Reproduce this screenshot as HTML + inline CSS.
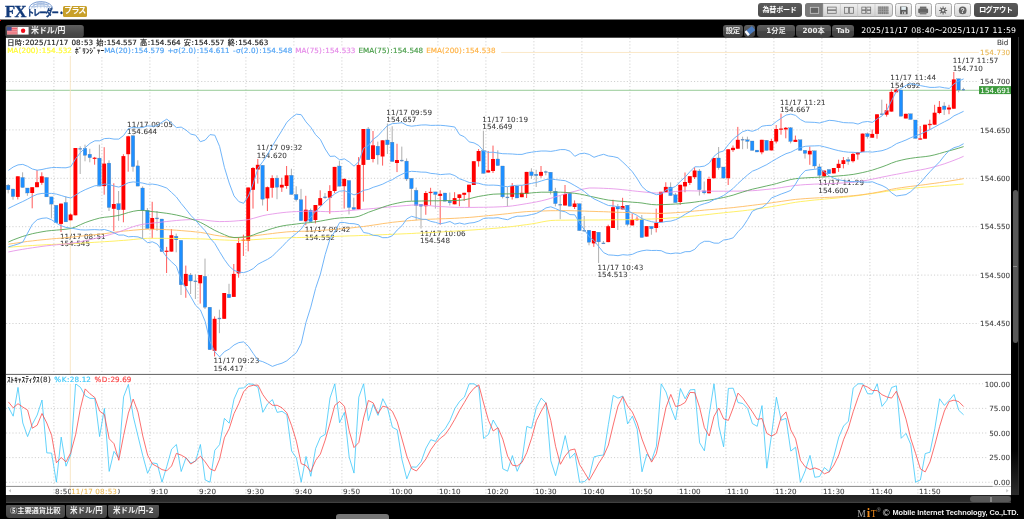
<!DOCTYPE html>
<html lang="ja"><head><meta charset="utf-8"><title>FXトレーダー・プラス</title>
<style>
*{box-sizing:border-box;margin:0;padding:0}
html,body{width:1024px;height:519px;overflow:hidden;background:#000}
body{position:relative;font-family:'Liberation Sans','Noto Sans CJK JP',sans-serif}
.a{position:absolute}
.dk{background:linear-gradient(#5a5a5a,#4a4a4a);border-radius:3px;color:#fff;font-weight:bold;text-align:center;white-space:nowrap;overflow:hidden}
.lt{background:linear-gradient(#f6f6f6,#d6d6d6);border:0.7px solid #a9a9a9;border-radius:2.5px}
.btn2{background:linear-gradient(#5e5e5e 0%,#515151 48%,#464646 54%,#404040 100%);border-radius:3px;color:#ececec;font-family:'DejaVu Sans','Liberation Sans','Noto Sans CJK JP',sans-serif;font-weight:bold;text-align:center;white-space:nowrap;font-size:7.2px;line-height:11.8px;height:11.6px;top:25.1px}
.tab{top:504.8px;height:12.9px;background:linear-gradient(#555,#454545);border-radius:1px 1px 3.5px 3.5px;color:#f0f0f0;font-family:'DejaVu Sans','Liberation Sans','Noto Sans CJK JP',sans-serif;font-weight:bold;font-size:7.5px;line-height:12.6px;text-align:center;white-space:nowrap}
</style></head>
<body>
<svg class="a" style="left:0;top:0" width="1024" height="519" viewBox="0 0 1024 519"><rect x="0" y="0" width="1024" height="19.5" fill="#fff"/><rect x="5.9" y="37.7" width="1005.3" height="457.3" fill="#fff"/></svg>
<!-- logo -->
<div class="a" style="left:4.9px;top:2.5px;font-family:'Liberation Serif',serif;font-weight:bold;font-size:16.6px;line-height:17px;color:#123a7a;letter-spacing:-0.5px;-webkit-text-stroke:0.35px #123a7a">FX</div>
<svg class="a" style="left:27px;top:0" width="30" height="10" viewBox="0 0 30 10" fill="none"><path d="M2 8.6 A11.8 7 0 0 1 25.6 8.6" stroke="#6f93cc" stroke-width="0.9"/><path d="M4.6 8.6 A9.2 5.2 0 0 1 23 8.6" stroke="#8eaad8" stroke-width="0.7"/><path d="M7.4 8.6 A6.4 3.6 0 0 1 20.2 8.6" stroke="#a5bce0" stroke-width="0.6"/><path d="M3 6.6H24.6M5.4 4.6H22.2M9 2.9H18.6" stroke="#8eaad8" stroke-width="0.55"/><path d="M8 3.2L6.4 8.4M11 2.2L10.2 8.4M13.8 1.7V8.4M16.6 2.2L17.4 8.4M19.6 3.2L21.2 8.4" stroke="#9db6de" stroke-width="0.5"/></svg>
<div class="a" style="left:27.2px;top:8.4px;font-size:8.6px;line-height:10px;font-weight:bold;color:#123a7a;white-space:nowrap;letter-spacing:-0.95px;transform:scaleX(0.81);transform-origin:0 0;-webkit-text-stroke:0.45px #123a7a">トレーダー・</div>
<div class="a" style="left:63px;top:6.2px;width:23.8px;height:10.8px;background:#c8a02a;border-radius:1.5px;color:#fff;font-weight:bold;font-size:8px;line-height:10.6px;text-align:center;letter-spacing:-0.9px;white-space:nowrap">プラス</div>
<div class="a" style="left:0;top:19.6px;width:1.2px;height:1.2px;background:#e00"></div>

<!-- header buttons -->
<div class="a dk" style="left:757.6px;top:2.7px;width:44px;height:14.3px;font-size:7.1px;line-height:14.2px;letter-spacing:-0.25px">為替ボード</div>
<div class="a" style="left:805.2px;top:2.7px;width:87.4px;height:14.3px;border-radius:3px;background:linear-gradient(#f0f0f0,#d2d2d2);border:0.7px solid #a8a8a8"></div>
<div class="a" style="left:805.2px;top:2.7px;width:18px;height:14.3px;border-radius:3px 0 0 3px;background:#7a7a7a"></div>
<svg class="a" style="left:805px;top:2.7px" width="88" height="14.3" viewBox="0 0 88 14.3" fill="none" stroke="#6e6e6e" stroke-width="0.75">
<rect x="5.3" y="4.3" width="8.4" height="6" stroke="#cdcdcd" fill="#626262"/>
<path d="M18.2 0.6V13.7M35.4 0.6V13.7M52.6 0.6V13.7M70 0.6V13.7" stroke="#bdbdbd" stroke-width="0.6"/>
<rect x="22.6" y="4.1" width="8.6" height="2.7"/><rect x="22.6" y="7.6" width="8.6" height="2.7"/>
<rect x="39.6" y="4.3" width="3.9" height="6"/><rect x="44.6" y="4.3" width="3.9" height="6"/>
<rect x="56.8" y="4.1" width="3.9" height="2.7"/><rect x="61.8" y="4.1" width="3.9" height="2.7"/><rect x="56.8" y="7.6" width="3.9" height="2.7"/><rect x="61.8" y="7.6" width="3.9" height="2.7"/>
<rect x="72.8" y="3.4" width="10.6" height="7.6" fill="#a2a2a2" stroke="none"/>
<path d="M73.5 4.2H83.4M73.5 5.9H83.4M73.5 7.6H83.4M73.5 9.3H83.4M73.5 10.6H83.4" stroke="#707070" stroke-width="1" stroke-dasharray="1 0.8"/>
</svg>
<div class="a lt" style="left:895px;top:2.5px;width:17px;height:14.6px"></div>
<div class="a lt" style="left:914.8px;top:2.5px;width:17px;height:14.6px"></div>
<div class="a lt" style="left:934.5px;top:2.5px;width:17px;height:14.6px"></div>
<div class="a lt" style="left:954px;top:2.5px;width:17px;height:14.6px"></div>
<svg class="a" style="left:895px;top:2.5px" width="80" height="14.6" viewBox="0 0 80 14.6">
<path d="M5.1 3.5h6.4l1.1 1.1v6.7H5.1z" fill="#5a5a5a"/><rect x="6.3" y="3.7" width="4.6" height="3.2" fill="#e2eef2"/><rect x="7.2" y="8.6" width="3.6" height="2.7" fill="#c9c9c9"/><rect x="8" y="9.1" width="1.1" height="1.8" fill="#5a5a5a"/>
<rect x="23.2" y="5.6" width="9.9" height="4.6" rx="1.2" fill="#646464"/><rect x="24.9" y="3.6" width="6.5" height="2.2" fill="#6c6c6c"/><rect x="24.9" y="8.9" width="6.5" height="2.5" fill="#7a7a7a"/>
<g stroke="#646464" stroke-width="1.05"><path d="M48.1 3.4v8.1M44.05 7.45h8.1M45.25 4.6l5.7 5.7M50.95 4.6l-5.7 5.7"/></g><circle cx="48.1" cy="7.45" r="2.5" fill="#646464"/><circle cx="48.1" cy="7.45" r="1.15" fill="#e4e4e4"/>
<circle cx="67.7" cy="7.45" r="3.85" fill="#646464"/>
<text x="67.7" y="9.9" font-family="'Liberation Sans',sans-serif" font-size="6.8" font-weight="bold" fill="#f2f2f2" text-anchor="middle">?</text>
</svg>
<div class="a dk" style="left:974px;top:2.7px;width:43.5px;height:14.3px;font-size:7.3px;line-height:14.2px;letter-spacing:-0.55px">ログアウト</div>

<!-- pair tab -->
<svg class="a" style="left:0;top:20px" width="90" height="20" viewBox="0 0 90 20"><defs><linearGradient id="tg" x1="0" y1="0" x2="0" y2="1"><stop offset="0" stop-color="#5e5e5e"/><stop offset="0.7" stop-color="#484848"/><stop offset="1" stop-color="#424242"/></linearGradient></defs><rect x="5.4" y="5.1" width="78.4" height="12.1" rx="2.8" fill="url(#tg)"/></svg>
<svg class="a" style="left:7.4px;top:27.2px" width="22" height="8" viewBox="0 0 22 8">
<rect x="0" y="0" width="10.6" height="7.6" fill="#f2a3a8"/><path d="M0 1.6h10.6M0 3.8h10.6M0 6h10.6" stroke="#e8606c" stroke-width="1.1"/><rect x="0" y="0" width="4.6" height="3.6" fill="#3c4f8f"/>
<rect x="10.6" y="0" width="11" height="7.6" fill="#fff"/><circle cx="16.1" cy="3.8" r="2.2" fill="#f20d1a"/></svg>
<div class="a" style="left:31px;top:25.1px;font-family:'DejaVu Sans','Liberation Sans','Noto Sans CJK JP',sans-serif;font-size:7.9px;line-height:12px;font-weight:bold;color:#f2f2f2;white-space:nowrap;letter-spacing:0px">米ドル/円</div>

<!-- row 2 buttons -->
<div class="a btn2" style="left:722.7px;width:20.1px;letter-spacing:-0.3px;font-size:7.3px">設定</div>
<div class="a btn2" style="left:744.3px;width:11px"></div>
<svg class="a" style="left:744px;top:25px" width="12" height="12" viewBox="0 0 12 12"><g transform="rotate(-38 5.8 6)"><rect x="1.2" y="3.4" width="9.4" height="5.4" rx="0.6" fill="#4b7cc0"/><rect x="1.2" y="3.4" width="2.5" height="5.4" rx="0.5" fill="#f6f6f6"/></g></svg>
<div class="a btn2" style="left:757px;width:38px">1分足</div>
<div class="a btn2" style="left:796px;width:35px">200本</div>
<div class="a btn2" style="left:832.2px;width:21.6px;font-size:6.9px;line-height:13.6px;overflow:hidden">Tab</div>


<div class="a" style="left:1011.3px;top:37.4px;width:7.4px;height:458px;background:linear-gradient(#000 0%,#000 90%,#2c2c2c 100%);border-right:0.8px solid #303030"></div>
<div class="a" style="left:1012.6px;top:189.9px;width:5.2px;height:153px;border-radius:2.6px;background:#595959"></div>
<div class="a" style="left:1013.2px;top:265.9px;width:4px;height:1.6px;background:#8c8c8c"></div>
<svg width="1024" height="519" viewBox="0 0 1024 519" style="position:absolute;left:0;top:0">
<line x1="53.90" y1="38.00" x2="53.90" y2="495.00" stroke="#cacaca" stroke-width="0.9" stroke-dasharray="1.1 2.1"/>
<line x1="101.90" y1="38.00" x2="101.90" y2="495.00" stroke="#cacaca" stroke-width="0.9" stroke-dasharray="1.1 2.1"/>
<line x1="149.90" y1="38.00" x2="149.90" y2="495.00" stroke="#cacaca" stroke-width="0.9" stroke-dasharray="1.1 2.1"/>
<line x1="197.90" y1="38.00" x2="197.90" y2="495.00" stroke="#cacaca" stroke-width="0.9" stroke-dasharray="1.1 2.1"/>
<line x1="245.90" y1="38.00" x2="245.90" y2="495.00" stroke="#cacaca" stroke-width="0.9" stroke-dasharray="1.1 2.1"/>
<line x1="293.90" y1="38.00" x2="293.90" y2="495.00" stroke="#cacaca" stroke-width="0.9" stroke-dasharray="1.1 2.1"/>
<line x1="341.90" y1="38.00" x2="341.90" y2="495.00" stroke="#cacaca" stroke-width="0.9" stroke-dasharray="1.1 2.1"/>
<line x1="389.90" y1="38.00" x2="389.90" y2="495.00" stroke="#cacaca" stroke-width="0.9" stroke-dasharray="1.1 2.1"/>
<line x1="437.90" y1="38.00" x2="437.90" y2="495.00" stroke="#cacaca" stroke-width="0.9" stroke-dasharray="1.1 2.1"/>
<line x1="485.90" y1="38.00" x2="485.90" y2="495.00" stroke="#cacaca" stroke-width="0.9" stroke-dasharray="1.1 2.1"/>
<line x1="533.90" y1="38.00" x2="533.90" y2="495.00" stroke="#cacaca" stroke-width="0.9" stroke-dasharray="1.1 2.1"/>
<line x1="581.90" y1="38.00" x2="581.90" y2="495.00" stroke="#cacaca" stroke-width="0.9" stroke-dasharray="1.1 2.1"/>
<line x1="629.90" y1="38.00" x2="629.90" y2="495.00" stroke="#cacaca" stroke-width="0.9" stroke-dasharray="1.1 2.1"/>
<line x1="677.90" y1="38.00" x2="677.90" y2="495.00" stroke="#cacaca" stroke-width="0.9" stroke-dasharray="1.1 2.1"/>
<line x1="725.90" y1="38.00" x2="725.90" y2="495.00" stroke="#cacaca" stroke-width="0.9" stroke-dasharray="1.1 2.1"/>
<line x1="773.90" y1="38.00" x2="773.90" y2="495.00" stroke="#cacaca" stroke-width="0.9" stroke-dasharray="1.1 2.1"/>
<line x1="821.90" y1="38.00" x2="821.90" y2="495.00" stroke="#cacaca" stroke-width="0.9" stroke-dasharray="1.1 2.1"/>
<line x1="869.90" y1="38.00" x2="869.90" y2="495.00" stroke="#cacaca" stroke-width="0.9" stroke-dasharray="1.1 2.1"/>
<line x1="917.90" y1="38.00" x2="917.90" y2="495.00" stroke="#cacaca" stroke-width="0.9" stroke-dasharray="1.1 2.1"/>
<line x1="6.00" y1="81.50" x2="1011.00" y2="81.50" stroke="#cacaca" stroke-width="0.9" stroke-dasharray="1.1 2.1"/>
<line x1="6.00" y1="129.90" x2="1011.00" y2="129.90" stroke="#cacaca" stroke-width="0.9" stroke-dasharray="1.1 2.1"/>
<line x1="6.00" y1="178.30" x2="1011.00" y2="178.30" stroke="#cacaca" stroke-width="0.9" stroke-dasharray="1.1 2.1"/>
<line x1="6.00" y1="226.70" x2="1011.00" y2="226.70" stroke="#cacaca" stroke-width="0.9" stroke-dasharray="1.1 2.1"/>
<line x1="6.00" y1="275.10" x2="1011.00" y2="275.10" stroke="#cacaca" stroke-width="0.9" stroke-dasharray="1.1 2.1"/>
<line x1="6.00" y1="323.50" x2="1011.00" y2="323.50" stroke="#cacaca" stroke-width="0.9" stroke-dasharray="1.1 2.1"/>
<line x1="6.00" y1="383.75" x2="1011.00" y2="383.75" stroke="#cacaca" stroke-width="0.9" stroke-dasharray="1.1 2.1"/>
<line x1="6.00" y1="408.38" x2="1011.00" y2="408.38" stroke="#cacaca" stroke-width="0.9" stroke-dasharray="1.1 2.1"/>
<line x1="6.00" y1="433.00" x2="1011.00" y2="433.00" stroke="#cacaca" stroke-width="0.9" stroke-dasharray="1.1 2.1"/>
<line x1="6.00" y1="457.62" x2="1011.00" y2="457.62" stroke="#cacaca" stroke-width="0.9" stroke-dasharray="1.1 2.1"/>
<line x1="6.00" y1="482.25" x2="1011.00" y2="482.25" stroke="#cacaca" stroke-width="0.9" stroke-dasharray="1.1 2.1"/>
<line x1="6.00" y1="52.46" x2="1011.00" y2="52.46" stroke="#fae5c2" stroke-width="0.9"/>
<line x1="6.00" y1="90.31" x2="1011.00" y2="90.31" stroke="#7fbf7f" stroke-width="0.8"/>
<line x1="70.30" y1="38.00" x2="70.30" y2="495.00" stroke="#f5e2ba" stroke-width="0.85"/>
<line x1="8.20" y1="184.00" x2="8.20" y2="193.40" stroke="#a6a6a6" stroke-width="0.9"/>
<rect x="6.45" y="185.2" width="3.5" height="4.6" fill="#1e8fff" stroke="#5d7c9c" stroke-width="0.3"/>
<line x1="13.00" y1="189.00" x2="13.00" y2="199.70" stroke="#a6a6a6" stroke-width="0.9"/>
<rect x="11.25" y="189.0" width="3.5" height="7.6" fill="#1e8fff" stroke="#5d7c9c" stroke-width="0.3"/>
<line x1="17.80" y1="176.30" x2="17.80" y2="199.40" stroke="#ff4646" stroke-width="0.9"/>
<rect x="15.85" y="176.3" width="3.9" height="20.6" fill="#ff0000"/>
<line x1="22.60" y1="172.30" x2="22.60" y2="187.50" stroke="#a6a6a6" stroke-width="0.9"/>
<rect x="20.85" y="177.5" width="3.5" height="10.0" fill="#1e8fff" stroke="#5d7c9c" stroke-width="0.3"/>
<line x1="27.40" y1="188.00" x2="27.40" y2="195.80" stroke="#a6a6a6" stroke-width="0.9"/>
<rect x="25.65" y="188.0" width="3.5" height="5.0" fill="#1e8fff" stroke="#5d7c9c" stroke-width="0.3"/>
<line x1="32.20" y1="187.20" x2="32.20" y2="208.30" stroke="#ff4646" stroke-width="0.9"/>
<rect x="30.25" y="187.2" width="3.9" height="5.8" fill="#ff0000"/>
<line x1="37.00" y1="170.00" x2="37.00" y2="187.20" stroke="#ff4646" stroke-width="0.9"/>
<rect x="35.05" y="182.2" width="3.9" height="5.0" fill="#ff0000"/>
<line x1="41.80" y1="172.30" x2="41.80" y2="184.80" stroke="#ff4646" stroke-width="0.9"/>
<rect x="39.85" y="176.3" width="3.9" height="6.5" fill="#ff0000"/>
<line x1="46.60" y1="177.50" x2="46.60" y2="196.90" stroke="#a6a6a6" stroke-width="0.9"/>
<rect x="44.85" y="177.5" width="3.5" height="19.4" fill="#1e8fff" stroke="#5d7c9c" stroke-width="0.3"/>
<line x1="51.40" y1="196.90" x2="51.40" y2="218.40" stroke="#a6a6a6" stroke-width="0.9"/>
<rect x="49.65" y="196.9" width="3.5" height="7.2" fill="#1e8fff" stroke="#5d7c9c" stroke-width="0.3"/>
<line x1="56.20" y1="205.30" x2="56.20" y2="222.80" stroke="#a6a6a6" stroke-width="0.9"/>
<rect x="54.45" y="205.3" width="3.5" height="17.5" fill="#1e8fff" stroke="#5d7c9c" stroke-width="0.3"/>
<line x1="61.00" y1="203.60" x2="61.00" y2="232.00" stroke="#ff4646" stroke-width="0.9"/>
<rect x="59.05" y="203.6" width="3.9" height="20.3" fill="#ff0000"/>
<line x1="65.80" y1="196.30" x2="65.80" y2="221.90" stroke="#a6a6a6" stroke-width="0.9"/>
<rect x="64.05" y="202.5" width="3.5" height="19.4" fill="#1e8fff" stroke="#5d7c9c" stroke-width="0.3"/>
<line x1="70.60" y1="213.50" x2="70.60" y2="220.30" stroke="#ff4646" stroke-width="0.9"/>
<rect x="68.65" y="214.5" width="3.9" height="5.8" fill="#ff0000"/>
<line x1="75.40" y1="148.00" x2="75.40" y2="215.30" stroke="#ff4646" stroke-width="0.9"/>
<rect x="73.45" y="148.0" width="3.9" height="67.3" fill="#ff0000"/>
<line x1="80.20" y1="146.30" x2="80.20" y2="174.00" stroke="#a6a6a6" stroke-width="0.9"/>
<rect x="78.45" y="148.20" width="3.5" height="1.3" fill="#6090c8"/>
<line x1="85.00" y1="144.70" x2="85.00" y2="161.30" stroke="#a6a6a6" stroke-width="0.9"/>
<rect x="83.25" y="148.3" width="3.5" height="7.0" fill="#1e8fff" stroke="#5d7c9c" stroke-width="0.3"/>
<line x1="89.80" y1="148.80" x2="89.80" y2="162.30" stroke="#a6a6a6" stroke-width="0.9"/>
<rect x="88.05" y="154.2" width="3.5" height="3.5" fill="#1e8fff" stroke="#5d7c9c" stroke-width="0.3"/>
<line x1="94.60" y1="156.90" x2="94.60" y2="164.70" stroke="#ff4646" stroke-width="0.9"/>
<rect x="92.65" y="157.65" width="3.9" height="1.3" fill="#ff1a1a"/>
<line x1="99.40" y1="144.70" x2="99.40" y2="186.10" stroke="#a6a6a6" stroke-width="0.9"/>
<rect x="97.65" y="158.1" width="3.5" height="28.0" fill="#1e8fff" stroke="#5d7c9c" stroke-width="0.3"/>
<line x1="104.20" y1="147.20" x2="104.20" y2="194.70" stroke="#ff4646" stroke-width="0.9"/>
<rect x="102.25" y="163.6" width="3.9" height="22.5" fill="#ff0000"/>
<line x1="109.00" y1="160.30" x2="109.00" y2="211.00" stroke="#a6a6a6" stroke-width="0.9"/>
<rect x="107.25" y="163.1" width="3.5" height="44.4" fill="#1e8fff" stroke="#5d7c9c" stroke-width="0.3"/>
<line x1="113.80" y1="183.30" x2="113.80" y2="231.00" stroke="#ff4646" stroke-width="0.9"/>
<rect x="111.85" y="204.0" width="3.9" height="4.8" fill="#ff0000"/>
<line x1="118.60" y1="191.00" x2="118.60" y2="220.80" stroke="#a6a6a6" stroke-width="0.9"/>
<rect x="116.85" y="203.6" width="3.5" height="6.2" fill="#1e8fff" stroke="#5d7c9c" stroke-width="0.3"/>
<line x1="123.40" y1="154.20" x2="123.40" y2="222.30" stroke="#ff4646" stroke-width="0.9"/>
<rect x="121.45" y="156.1" width="3.9" height="53.7" fill="#ff0000"/>
<line x1="128.20" y1="135.70" x2="128.20" y2="171.70" stroke="#ff4646" stroke-width="0.9"/>
<rect x="126.25" y="136.3" width="3.9" height="17.9" fill="#ff0000"/>
<line x1="133.00" y1="135.00" x2="133.00" y2="171.70" stroke="#a6a6a6" stroke-width="0.9"/>
<rect x="131.25" y="135.8" width="3.5" height="30.8" fill="#1e8fff" stroke="#5d7c9c" stroke-width="0.3"/>
<line x1="137.80" y1="160.30" x2="137.80" y2="186.10" stroke="#a6a6a6" stroke-width="0.9"/>
<rect x="136.05" y="165.9" width="3.5" height="20.2" fill="#1e8fff" stroke="#5d7c9c" stroke-width="0.3"/>
<line x1="142.60" y1="186.40" x2="142.60" y2="238.00" stroke="#a6a6a6" stroke-width="0.9"/>
<rect x="140.85" y="188.0" width="3.5" height="22.3" fill="#1e8fff" stroke="#5d7c9c" stroke-width="0.3"/>
<line x1="147.40" y1="208.00" x2="147.40" y2="228.60" stroke="#a6a6a6" stroke-width="0.9"/>
<rect x="145.65" y="210.3" width="3.5" height="18.3" fill="#1e8fff" stroke="#5d7c9c" stroke-width="0.3"/>
<line x1="152.20" y1="201.80" x2="152.20" y2="238.30" stroke="#ff4646" stroke-width="0.9"/>
<rect x="150.25" y="218.0" width="3.9" height="11.2" fill="#ff0000"/>
<line x1="157.00" y1="211.00" x2="157.00" y2="231.00" stroke="#a6a6a6" stroke-width="0.9"/>
<rect x="155.25" y="217.75" width="3.5" height="1.3" fill="#6090c8"/>
<line x1="161.80" y1="219.00" x2="161.80" y2="251.60" stroke="#a6a6a6" stroke-width="0.9"/>
<rect x="160.05" y="219.0" width="3.5" height="32.6" fill="#1e8fff" stroke="#5d7c9c" stroke-width="0.3"/>
<line x1="166.60" y1="246.90" x2="166.60" y2="273.00" stroke="#ff4646" stroke-width="0.9"/>
<rect x="164.65" y="250.65" width="3.9" height="1.3" fill="#ff1a1a"/>
<line x1="171.40" y1="229.00" x2="171.40" y2="251.60" stroke="#ff4646" stroke-width="0.9"/>
<rect x="169.45" y="235.2" width="3.9" height="16.4" fill="#ff0000"/>
<line x1="176.20" y1="233.60" x2="176.20" y2="252.30" stroke="#a6a6a6" stroke-width="0.9"/>
<rect x="174.45" y="236.3" width="3.5" height="3.5" fill="#1e8fff" stroke="#5d7c9c" stroke-width="0.3"/>
<line x1="181.00" y1="240.30" x2="181.00" y2="295.00" stroke="#a6a6a6" stroke-width="0.9"/>
<rect x="179.25" y="240.3" width="3.5" height="44.5" fill="#1e8fff" stroke="#5d7c9c" stroke-width="0.3"/>
<line x1="185.80" y1="265.60" x2="185.80" y2="297.80" stroke="#ff4646" stroke-width="0.9"/>
<rect x="183.85" y="273.9" width="3.9" height="12.1" fill="#ff0000"/>
<line x1="190.60" y1="273.00" x2="190.60" y2="294.00" stroke="#a6a6a6" stroke-width="0.9"/>
<rect x="188.85" y="275.0" width="3.5" height="6.0" fill="#1e8fff" stroke="#5d7c9c" stroke-width="0.3"/>
<line x1="195.40" y1="274.40" x2="195.40" y2="299.00" stroke="#a6a6a6" stroke-width="0.9"/>
<rect x="193.65" y="280.65" width="3.5" height="1.3" fill="#6090c8"/>
<line x1="200.20" y1="275.00" x2="200.20" y2="303.60" stroke="#ff4646" stroke-width="0.9"/>
<rect x="198.25" y="275.0" width="3.9" height="8.3" fill="#ff0000"/>
<line x1="205.00" y1="258.60" x2="205.00" y2="309.00" stroke="#a6a6a6" stroke-width="0.9"/>
<rect x="203.25" y="276.3" width="3.5" height="30.9" fill="#1e8fff" stroke="#5d7c9c" stroke-width="0.3"/>
<line x1="209.80" y1="307.20" x2="209.80" y2="349.70" stroke="#a6a6a6" stroke-width="0.9"/>
<rect x="208.05" y="307.2" width="3.5" height="42.5" fill="#1e8fff" stroke="#5d7c9c" stroke-width="0.3"/>
<line x1="214.60" y1="316.40" x2="214.60" y2="356.40" stroke="#ff4646" stroke-width="0.9"/>
<rect x="212.65" y="318.8" width="3.9" height="32.0" fill="#ff0000"/>
<line x1="219.40" y1="309.70" x2="219.40" y2="333.20" stroke="#a6a6a6" stroke-width="0.9"/>
<rect x="217.65" y="317.85" width="3.5" height="1.3" fill="#6090c8"/>
<line x1="224.20" y1="293.00" x2="224.20" y2="318.80" stroke="#ff4646" stroke-width="0.9"/>
<rect x="222.25" y="293.0" width="3.9" height="25.8" fill="#ff0000"/>
<line x1="229.00" y1="283.80" x2="229.00" y2="297.80" stroke="#a6a6a6" stroke-width="0.9"/>
<rect x="227.25" y="294.2" width="3.5" height="3.6" fill="#1e8fff" stroke="#5d7c9c" stroke-width="0.3"/>
<line x1="233.80" y1="264.00" x2="233.80" y2="296.90" stroke="#ff4646" stroke-width="0.9"/>
<rect x="231.85" y="273.9" width="3.9" height="23.0" fill="#ff0000"/>
<line x1="238.60" y1="237.50" x2="238.60" y2="277.70" stroke="#ff4646" stroke-width="0.9"/>
<rect x="236.65" y="243.0" width="3.9" height="30.4" fill="#ff0000"/>
<line x1="243.40" y1="234.70" x2="243.40" y2="256.00" stroke="#ff4646" stroke-width="0.9"/>
<rect x="241.45" y="239.65" width="3.9" height="1.3" fill="#ff1a1a"/>
<line x1="248.20" y1="187.50" x2="248.20" y2="251.30" stroke="#ff4646" stroke-width="0.9"/>
<rect x="246.25" y="187.5" width="3.9" height="53.5" fill="#ff0000"/>
<line x1="253.00" y1="167.00" x2="253.00" y2="208.60" stroke="#ff4646" stroke-width="0.9"/>
<rect x="251.05" y="168.0" width="3.9" height="21.8" fill="#ff0000"/>
<line x1="257.80" y1="159.00" x2="257.80" y2="183.60" stroke="#ff4646" stroke-width="0.9"/>
<rect x="255.85" y="164.8" width="3.9" height="4.7" fill="#ff0000"/>
<line x1="262.60" y1="165.30" x2="262.60" y2="205.50" stroke="#a6a6a6" stroke-width="0.9"/>
<rect x="260.85" y="165.3" width="3.5" height="33.9" fill="#1e8fff" stroke="#5d7c9c" stroke-width="0.3"/>
<line x1="267.40" y1="186.50" x2="267.40" y2="211.00" stroke="#ff4646" stroke-width="0.9"/>
<rect x="265.45" y="187.2" width="3.9" height="11.2" fill="#ff0000"/>
<line x1="272.20" y1="175.30" x2="272.20" y2="197.70" stroke="#ff4646" stroke-width="0.9"/>
<rect x="270.25" y="178.1" width="3.9" height="9.7" fill="#ff0000"/>
<line x1="277.00" y1="175.30" x2="277.00" y2="199.20" stroke="#a6a6a6" stroke-width="0.9"/>
<rect x="275.25" y="178.1" width="3.5" height="9.1" fill="#1e8fff" stroke="#5d7c9c" stroke-width="0.3"/>
<line x1="281.80" y1="177.80" x2="281.80" y2="191.90" stroke="#ff4646" stroke-width="0.9"/>
<rect x="279.85" y="184.8" width="3.9" height="2.7" fill="#ff0000"/>
<line x1="286.60" y1="166.00" x2="286.60" y2="188.75" stroke="#ff4646" stroke-width="0.9"/>
<rect x="284.65" y="175.3" width="3.9" height="10.7" fill="#ff0000"/>
<line x1="291.40" y1="168.75" x2="291.40" y2="194.50" stroke="#a6a6a6" stroke-width="0.9"/>
<rect x="289.65" y="175.3" width="3.5" height="19.2" fill="#1e8fff" stroke="#5d7c9c" stroke-width="0.3"/>
<line x1="296.20" y1="186.25" x2="296.20" y2="201.50" stroke="#a6a6a6" stroke-width="0.9"/>
<rect x="294.45" y="194.5" width="3.5" height="5.2" fill="#1e8fff" stroke="#5d7c9c" stroke-width="0.3"/>
<line x1="301.00" y1="188.90" x2="301.00" y2="220.70" stroke="#a6a6a6" stroke-width="0.9"/>
<rect x="299.25" y="199.7" width="3.5" height="21.0" fill="#1e8fff" stroke="#5d7c9c" stroke-width="0.3"/>
<line x1="305.80" y1="195.80" x2="305.80" y2="225.20" stroke="#ff4646" stroke-width="0.9"/>
<rect x="303.85" y="209.7" width="3.9" height="11.6" fill="#ff0000"/>
<line x1="310.60" y1="208.60" x2="310.60" y2="221.60" stroke="#a6a6a6" stroke-width="0.9"/>
<rect x="308.85" y="210.2" width="3.5" height="11.4" fill="#1e8fff" stroke="#5d7c9c" stroke-width="0.3"/>
<line x1="315.40" y1="205.00" x2="315.40" y2="223.40" stroke="#ff4646" stroke-width="0.9"/>
<rect x="313.45" y="205.0" width="3.9" height="15.0" fill="#ff0000"/>
<line x1="320.20" y1="190.30" x2="320.20" y2="205.50" stroke="#ff4646" stroke-width="0.9"/>
<rect x="318.25" y="198.1" width="3.9" height="7.4" fill="#ff0000"/>
<line x1="325.00" y1="193.00" x2="325.00" y2="198.75" stroke="#a6a6a6" stroke-width="0.9"/>
<rect x="323.25" y="196.65" width="3.5" height="1.3" fill="#6090c8"/>
<line x1="329.80" y1="185.20" x2="329.80" y2="213.75" stroke="#ff4646" stroke-width="0.9"/>
<rect x="327.85" y="191.0" width="3.9" height="6.7" fill="#ff0000"/>
<line x1="334.60" y1="166.90" x2="334.60" y2="193.00" stroke="#ff4646" stroke-width="0.9"/>
<rect x="332.65" y="166.9" width="3.9" height="24.1" fill="#ff0000"/>
<line x1="339.40" y1="160.80" x2="339.40" y2="186.25" stroke="#a6a6a6" stroke-width="0.9"/>
<rect x="337.65" y="166.0" width="3.5" height="20.2" fill="#1e8fff" stroke="#5d7c9c" stroke-width="0.3"/>
<line x1="344.20" y1="178.00" x2="344.20" y2="208.60" stroke="#ff4646" stroke-width="0.9"/>
<rect x="342.25" y="179.0" width="3.9" height="7.2" fill="#ff0000"/>
<line x1="349.00" y1="180.50" x2="349.00" y2="214.40" stroke="#a6a6a6" stroke-width="0.9"/>
<rect x="347.25" y="180.5" width="3.5" height="27.0" fill="#1e8fff" stroke="#5d7c9c" stroke-width="0.3"/>
<line x1="353.80" y1="197.70" x2="353.80" y2="209.40" stroke="#a6a6a6" stroke-width="0.9"/>
<rect x="352.05" y="207.5" width="3.5" height="1.9" fill="#1e8fff" stroke="#5d7c9c" stroke-width="0.3"/>
<line x1="358.60" y1="157.10" x2="358.60" y2="209.40" stroke="#ff4646" stroke-width="0.9"/>
<rect x="356.65" y="164.9" width="3.9" height="44.5" fill="#ff0000"/>
<line x1="363.40" y1="129.00" x2="363.40" y2="201.60" stroke="#ff4646" stroke-width="0.9"/>
<rect x="361.45" y="129.0" width="3.9" height="35.9" fill="#ff0000"/>
<line x1="368.20" y1="127.00" x2="368.20" y2="159.80" stroke="#a6a6a6" stroke-width="0.9"/>
<rect x="366.45" y="129.0" width="3.5" height="30.8" fill="#1e8fff" stroke="#5d7c9c" stroke-width="0.3"/>
<line x1="373.00" y1="131.00" x2="373.00" y2="162.40" stroke="#ff4646" stroke-width="0.9"/>
<rect x="371.05" y="145.3" width="3.9" height="13.7" fill="#ff0000"/>
<line x1="377.80" y1="141.60" x2="377.80" y2="164.50" stroke="#a6a6a6" stroke-width="0.9"/>
<rect x="376.05" y="146.2" width="3.5" height="8.8" fill="#1e8fff" stroke="#5d7c9c" stroke-width="0.3"/>
<line x1="382.60" y1="140.30" x2="382.60" y2="165.60" stroke="#ff4646" stroke-width="0.9"/>
<rect x="380.65" y="140.3" width="3.9" height="16.2" fill="#ff0000"/>
<line x1="387.40" y1="123.50" x2="387.40" y2="154.00" stroke="#a6a6a6" stroke-width="0.9"/>
<rect x="385.65" y="140.0" width="3.5" height="4.7" fill="#1e8fff" stroke="#5d7c9c" stroke-width="0.3"/>
<line x1="392.20" y1="126.25" x2="392.20" y2="161.50" stroke="#a6a6a6" stroke-width="0.9"/>
<rect x="390.45" y="142.2" width="3.5" height="19.3" fill="#1e8fff" stroke="#5d7c9c" stroke-width="0.3"/>
<line x1="397.00" y1="143.75" x2="397.00" y2="172.10" stroke="#ff4646" stroke-width="0.9"/>
<rect x="395.05" y="160.0" width="3.9" height="3.0" fill="#ff0000"/>
<line x1="401.80" y1="146.60" x2="401.80" y2="161.70" stroke="#a6a6a6" stroke-width="0.9"/>
<rect x="400.05" y="159.90" width="3.5" height="1.3" fill="#6090c8"/>
<line x1="406.60" y1="158.40" x2="406.60" y2="181.00" stroke="#a6a6a6" stroke-width="0.9"/>
<rect x="404.85" y="161.1" width="3.5" height="17.9" fill="#1e8fff" stroke="#5d7c9c" stroke-width="0.3"/>
<line x1="411.40" y1="178.40" x2="411.40" y2="200.80" stroke="#a6a6a6" stroke-width="0.9"/>
<rect x="409.65" y="178.4" width="3.5" height="10.3" fill="#1e8fff" stroke="#5d7c9c" stroke-width="0.3"/>
<line x1="416.20" y1="187.50" x2="416.20" y2="220.30" stroke="#a6a6a6" stroke-width="0.9"/>
<rect x="414.45" y="190.3" width="3.5" height="15.2" fill="#1e8fff" stroke="#5d7c9c" stroke-width="0.3"/>
<line x1="421.00" y1="204.40" x2="421.00" y2="228.50" stroke="#a6a6a6" stroke-width="0.9"/>
<rect x="419.25" y="204.4" width="3.5" height="1.8" fill="#1e8fff" stroke="#5d7c9c" stroke-width="0.3"/>
<line x1="425.80" y1="191.00" x2="425.80" y2="214.80" stroke="#ff4646" stroke-width="0.9"/>
<rect x="423.85" y="193.0" width="3.9" height="13.2" fill="#ff0000"/>
<line x1="430.60" y1="187.80" x2="430.60" y2="205.50" stroke="#ff4646" stroke-width="0.9"/>
<rect x="428.65" y="191.80" width="3.9" height="1.3" fill="#ff1a1a"/>
<line x1="435.40" y1="191.90" x2="435.40" y2="208.60" stroke="#a6a6a6" stroke-width="0.9"/>
<rect x="433.65" y="191.9" width="3.5" height="2.6" fill="#1e8fff" stroke="#5d7c9c" stroke-width="0.3"/>
<line x1="440.20" y1="190.30" x2="440.20" y2="224.70" stroke="#ff4646" stroke-width="0.9"/>
<rect x="438.25" y="193.8" width="3.9" height="2.1" fill="#ff0000"/>
<line x1="445.00" y1="193.00" x2="445.00" y2="201.25" stroke="#a6a6a6" stroke-width="0.9"/>
<rect x="443.25" y="193.0" width="3.5" height="8.2" fill="#1e8fff" stroke="#5d7c9c" stroke-width="0.3"/>
<line x1="449.80" y1="192.50" x2="449.80" y2="205.50" stroke="#a6a6a6" stroke-width="0.9"/>
<rect x="448.05" y="201.2" width="3.5" height="1.6" fill="#1e8fff" stroke="#5d7c9c" stroke-width="0.3"/>
<line x1="454.60" y1="192.20" x2="454.60" y2="204.30" stroke="#ff4646" stroke-width="0.9"/>
<rect x="452.65" y="198.1" width="3.9" height="6.2" fill="#ff0000"/>
<line x1="459.40" y1="194.40" x2="459.40" y2="206.25" stroke="#ff4646" stroke-width="0.9"/>
<rect x="457.45" y="194.4" width="3.9" height="3.6" fill="#ff0000"/>
<line x1="464.20" y1="192.80" x2="464.20" y2="201.00" stroke="#ff4646" stroke-width="0.9"/>
<rect x="462.25" y="192.8" width="3.9" height="2.0" fill="#ff0000"/>
<line x1="469.00" y1="184.70" x2="469.00" y2="207.30" stroke="#ff4646" stroke-width="0.9"/>
<rect x="467.05" y="184.7" width="3.9" height="7.5" fill="#ff0000"/>
<line x1="473.80" y1="161.25" x2="473.80" y2="185.00" stroke="#ff4646" stroke-width="0.9"/>
<rect x="471.85" y="161.2" width="3.9" height="23.8" fill="#ff0000"/>
<line x1="478.60" y1="149.00" x2="478.60" y2="166.70" stroke="#ff4646" stroke-width="0.9"/>
<rect x="476.65" y="151.0" width="3.9" height="10.2" fill="#ff0000"/>
<line x1="483.40" y1="130.90" x2="483.40" y2="173.40" stroke="#a6a6a6" stroke-width="0.9"/>
<rect x="481.65" y="150.6" width="3.5" height="22.8" fill="#1e8fff" stroke="#5d7c9c" stroke-width="0.3"/>
<line x1="488.20" y1="151.00" x2="488.20" y2="172.50" stroke="#ff4646" stroke-width="0.9"/>
<rect x="486.25" y="170.3" width="3.9" height="2.2" fill="#ff0000"/>
<line x1="493.00" y1="145.60" x2="493.00" y2="173.00" stroke="#ff4646" stroke-width="0.9"/>
<rect x="491.05" y="159.0" width="3.9" height="12.0" fill="#ff0000"/>
<line x1="497.80" y1="150.30" x2="497.80" y2="165.60" stroke="#a6a6a6" stroke-width="0.9"/>
<rect x="496.05" y="159.0" width="3.5" height="6.6" fill="#1e8fff" stroke="#5d7c9c" stroke-width="0.3"/>
<line x1="502.60" y1="166.00" x2="502.60" y2="198.40" stroke="#a6a6a6" stroke-width="0.9"/>
<rect x="500.85" y="166.0" width="3.5" height="30.9" fill="#1e8fff" stroke="#5d7c9c" stroke-width="0.3"/>
<line x1="507.40" y1="187.00" x2="507.40" y2="206.40" stroke="#a6a6a6" stroke-width="0.9"/>
<rect x="505.65" y="196.75" width="3.5" height="1.3" fill="#6090c8"/>
<line x1="512.20" y1="183.00" x2="512.20" y2="199.50" stroke="#ff4646" stroke-width="0.9"/>
<rect x="510.25" y="186.0" width="3.9" height="10.9" fill="#ff0000"/>
<line x1="517.00" y1="186.00" x2="517.00" y2="198.00" stroke="#a6a6a6" stroke-width="0.9"/>
<rect x="515.25" y="186.0" width="3.5" height="12.0" fill="#1e8fff" stroke="#5d7c9c" stroke-width="0.3"/>
<line x1="521.80" y1="185.50" x2="521.80" y2="197.20" stroke="#ff4646" stroke-width="0.9"/>
<rect x="519.85" y="192.8" width="3.9" height="4.4" fill="#ff0000"/>
<line x1="526.60" y1="171.90" x2="526.60" y2="198.00" stroke="#ff4646" stroke-width="0.9"/>
<rect x="524.65" y="171.9" width="3.9" height="21.8" fill="#ff0000"/>
<line x1="531.40" y1="168.30" x2="531.40" y2="178.75" stroke="#a6a6a6" stroke-width="0.9"/>
<rect x="529.65" y="171.9" width="3.5" height="3.7" fill="#1e8fff" stroke="#5d7c9c" stroke-width="0.3"/>
<line x1="536.20" y1="169.80" x2="536.20" y2="187.00" stroke="#a6a6a6" stroke-width="0.9"/>
<rect x="534.45" y="174.3" width="3.5" height="1.3" fill="#1e8fff" stroke="#5d7c9c" stroke-width="0.3"/>
<line x1="541.00" y1="166.00" x2="541.00" y2="177.70" stroke="#ff4646" stroke-width="0.9"/>
<rect x="539.05" y="171.9" width="3.9" height="3.9" fill="#ff0000"/>
<line x1="545.80" y1="170.60" x2="545.80" y2="175.30" stroke="#a6a6a6" stroke-width="0.9"/>
<rect x="544.05" y="171.35" width="3.5" height="1.3" fill="#6090c8"/>
<line x1="550.60" y1="172.20" x2="550.60" y2="194.40" stroke="#a6a6a6" stroke-width="0.9"/>
<rect x="548.85" y="172.2" width="3.5" height="18.8" fill="#1e8fff" stroke="#5d7c9c" stroke-width="0.3"/>
<line x1="555.40" y1="187.80" x2="555.40" y2="206.40" stroke="#a6a6a6" stroke-width="0.9"/>
<rect x="553.65" y="191.2" width="3.5" height="12.4" fill="#1e8fff" stroke="#5d7c9c" stroke-width="0.3"/>
<line x1="560.20" y1="195.30" x2="560.20" y2="219.20" stroke="#a6a6a6" stroke-width="0.9"/>
<rect x="558.45" y="204.10" width="3.5" height="1.3" fill="#6090c8"/>
<line x1="565.00" y1="185.00" x2="565.00" y2="205.50" stroke="#ff4646" stroke-width="0.9"/>
<rect x="563.05" y="194.0" width="3.9" height="11.5" fill="#ff0000"/>
<line x1="569.80" y1="193.30" x2="569.80" y2="206.25" stroke="#a6a6a6" stroke-width="0.9"/>
<rect x="568.05" y="193.3" width="3.5" height="12.9" fill="#1e8fff" stroke="#5d7c9c" stroke-width="0.3"/>
<line x1="574.60" y1="200.40" x2="574.60" y2="209.00" stroke="#ff4646" stroke-width="0.9"/>
<rect x="572.65" y="203.5" width="3.9" height="3.5" fill="#ff0000"/>
<line x1="579.40" y1="203.70" x2="579.40" y2="230.60" stroke="#a6a6a6" stroke-width="0.9"/>
<rect x="577.65" y="203.7" width="3.5" height="26.9" fill="#1e8fff" stroke="#5d7c9c" stroke-width="0.3"/>
<line x1="584.20" y1="216.00" x2="584.20" y2="231.70" stroke="#a6a6a6" stroke-width="0.9"/>
<rect x="582.45" y="230.10" width="3.5" height="1.3" fill="#6090c8"/>
<line x1="589.00" y1="230.20" x2="589.00" y2="245.30" stroke="#a6a6a6" stroke-width="0.9"/>
<rect x="587.25" y="230.2" width="3.5" height="12.0" fill="#1e8fff" stroke="#5d7c9c" stroke-width="0.3"/>
<line x1="593.80" y1="231.00" x2="593.80" y2="246.90" stroke="#ff4646" stroke-width="0.9"/>
<rect x="591.85" y="231.0" width="3.9" height="12.4" fill="#ff0000"/>
<line x1="598.60" y1="232.20" x2="598.60" y2="263.00" stroke="#a6a6a6" stroke-width="0.9"/>
<rect x="596.85" y="232.2" width="3.5" height="9.7" fill="#1e8fff" stroke="#5d7c9c" stroke-width="0.3"/>
<line x1="603.40" y1="241.00" x2="603.40" y2="243.75" stroke="#a6a6a6" stroke-width="0.9"/>
<rect x="601.65" y="242.72" width="3.5" height="1.3" fill="#6090c8"/>
<line x1="608.20" y1="224.70" x2="608.20" y2="242.20" stroke="#ff4646" stroke-width="0.9"/>
<rect x="606.25" y="226.2" width="3.9" height="15.9" fill="#ff0000"/>
<line x1="613.00" y1="199.70" x2="613.00" y2="228.00" stroke="#ff4646" stroke-width="0.9"/>
<rect x="611.05" y="207.2" width="3.9" height="20.8" fill="#ff0000"/>
<line x1="617.80" y1="204.00" x2="617.80" y2="230.00" stroke="#a6a6a6" stroke-width="0.9"/>
<rect x="616.05" y="206.2" width="3.5" height="2.8" fill="#1e8fff" stroke="#5d7c9c" stroke-width="0.3"/>
<line x1="622.60" y1="197.80" x2="622.60" y2="209.40" stroke="#ff4646" stroke-width="0.9"/>
<rect x="620.65" y="206.0" width="3.9" height="3.4" fill="#ff0000"/>
<line x1="627.40" y1="205.20" x2="627.40" y2="226.00" stroke="#a6a6a6" stroke-width="0.9"/>
<rect x="625.65" y="205.2" width="3.5" height="19.2" fill="#1e8fff" stroke="#5d7c9c" stroke-width="0.3"/>
<line x1="632.20" y1="213.50" x2="632.20" y2="225.40" stroke="#ff4646" stroke-width="0.9"/>
<rect x="630.25" y="219.3" width="3.9" height="6.1" fill="#ff0000"/>
<line x1="637.00" y1="216.40" x2="637.00" y2="220.80" stroke="#ff4646" stroke-width="0.9"/>
<rect x="635.05" y="218.85" width="3.9" height="1.3" fill="#ff1a1a"/>
<line x1="641.80" y1="215.00" x2="641.80" y2="237.50" stroke="#a6a6a6" stroke-width="0.9"/>
<rect x="640.05" y="219.1" width="3.5" height="18.4" fill="#1e8fff" stroke="#5d7c9c" stroke-width="0.3"/>
<line x1="646.60" y1="226.10" x2="646.60" y2="236.60" stroke="#ff4646" stroke-width="0.9"/>
<rect x="644.65" y="226.1" width="3.9" height="10.5" fill="#ff0000"/>
<line x1="651.40" y1="226.40" x2="651.40" y2="234.75" stroke="#a6a6a6" stroke-width="0.9"/>
<rect x="649.65" y="226.4" width="3.5" height="2.3" fill="#1e8fff" stroke="#5d7c9c" stroke-width="0.3"/>
<line x1="656.20" y1="208.60" x2="656.20" y2="232.40" stroke="#ff4646" stroke-width="0.9"/>
<rect x="654.25" y="223.0" width="3.9" height="5.0" fill="#ff0000"/>
<line x1="661.00" y1="191.80" x2="661.00" y2="222.20" stroke="#ff4646" stroke-width="0.9"/>
<rect x="659.05" y="191.8" width="3.9" height="30.4" fill="#ff0000"/>
<line x1="665.80" y1="182.25" x2="665.80" y2="192.25" stroke="#ff4646" stroke-width="0.9"/>
<rect x="663.85" y="186.9" width="3.9" height="5.3" fill="#ff0000"/>
<line x1="670.60" y1="182.40" x2="670.60" y2="195.55" stroke="#a6a6a6" stroke-width="0.9"/>
<rect x="668.85" y="187.1" width="3.5" height="8.5" fill="#1e8fff" stroke="#5d7c9c" stroke-width="0.3"/>
<line x1="675.40" y1="192.80" x2="675.40" y2="202.60" stroke="#a6a6a6" stroke-width="0.9"/>
<rect x="673.65" y="194.8" width="3.5" height="7.8" fill="#1e8fff" stroke="#5d7c9c" stroke-width="0.3"/>
<line x1="680.20" y1="184.85" x2="680.20" y2="204.90" stroke="#ff4646" stroke-width="0.9"/>
<rect x="678.25" y="184.8" width="3.9" height="17.2" fill="#ff0000"/>
<line x1="685.00" y1="172.50" x2="685.00" y2="192.25" stroke="#ff4646" stroke-width="0.9"/>
<rect x="683.05" y="182.0" width="3.9" height="4.4" fill="#ff0000"/>
<line x1="689.80" y1="176.25" x2="689.80" y2="185.00" stroke="#ff4646" stroke-width="0.9"/>
<rect x="687.85" y="176.2" width="3.9" height="6.7" fill="#ff0000"/>
<line x1="694.60" y1="167.30" x2="694.60" y2="179.00" stroke="#ff4646" stroke-width="0.9"/>
<rect x="692.65" y="170.5" width="3.9" height="6.7" fill="#ff0000"/>
<line x1="699.40" y1="169.00" x2="699.40" y2="195.55" stroke="#a6a6a6" stroke-width="0.9"/>
<rect x="697.65" y="171.0" width="3.5" height="18.8" fill="#1e8fff" stroke="#5d7c9c" stroke-width="0.3"/>
<line x1="704.20" y1="181.50" x2="704.20" y2="194.40" stroke="#a6a6a6" stroke-width="0.9"/>
<rect x="702.45" y="190.9" width="3.5" height="2.0" fill="#1e8fff" stroke="#5d7c9c" stroke-width="0.3"/>
<line x1="709.00" y1="176.70" x2="709.00" y2="193.35" stroke="#ff4646" stroke-width="0.9"/>
<rect x="707.05" y="179.0" width="3.9" height="14.3" fill="#ff0000"/>
<line x1="713.80" y1="158.00" x2="713.80" y2="178.30" stroke="#ff4646" stroke-width="0.9"/>
<rect x="711.85" y="158.0" width="3.9" height="20.3" fill="#ff0000"/>
<line x1="718.60" y1="147.00" x2="718.60" y2="169.70" stroke="#a6a6a6" stroke-width="0.9"/>
<rect x="716.85" y="158.0" width="3.5" height="9.8" fill="#1e8fff" stroke="#5d7c9c" stroke-width="0.3"/>
<line x1="723.40" y1="167.00" x2="723.40" y2="178.10" stroke="#a6a6a6" stroke-width="0.9"/>
<rect x="721.65" y="167.0" width="3.5" height="11.1" fill="#1e8fff" stroke="#5d7c9c" stroke-width="0.3"/>
<line x1="728.20" y1="149.30" x2="728.20" y2="185.00" stroke="#ff4646" stroke-width="0.9"/>
<rect x="726.25" y="149.3" width="3.9" height="28.9" fill="#ff0000"/>
<line x1="733.00" y1="145.50" x2="733.00" y2="151.90" stroke="#ff4646" stroke-width="0.9"/>
<rect x="731.05" y="147.8" width="3.9" height="2.3" fill="#ff0000"/>
<line x1="737.80" y1="126.90" x2="737.80" y2="148.70" stroke="#ff4646" stroke-width="0.9"/>
<rect x="735.85" y="139.8" width="3.9" height="8.9" fill="#ff0000"/>
<line x1="742.60" y1="136.70" x2="742.60" y2="149.20" stroke="#a6a6a6" stroke-width="0.9"/>
<rect x="740.85" y="139.10" width="3.5" height="1.3" fill="#6090c8"/>
<line x1="747.40" y1="136.70" x2="747.40" y2="148.75" stroke="#a6a6a6" stroke-width="0.9"/>
<rect x="745.65" y="139.8" width="3.5" height="1.6" fill="#1e8fff" stroke="#5d7c9c" stroke-width="0.3"/>
<line x1="752.20" y1="141.00" x2="752.20" y2="150.40" stroke="#a6a6a6" stroke-width="0.9"/>
<rect x="750.45" y="141.0" width="3.5" height="9.4" fill="#1e8fff" stroke="#5d7c9c" stroke-width="0.3"/>
<line x1="757.00" y1="150.10" x2="757.00" y2="152.00" stroke="#a6a6a6" stroke-width="0.9"/>
<rect x="755.25" y="150.1" width="3.5" height="1.9" fill="#1e8fff" stroke="#5d7c9c" stroke-width="0.3"/>
<line x1="761.80" y1="139.80" x2="761.80" y2="154.30" stroke="#ff4646" stroke-width="0.9"/>
<rect x="759.85" y="139.8" width="3.9" height="12.5" fill="#ff0000"/>
<line x1="766.60" y1="140.30" x2="766.60" y2="150.40" stroke="#a6a6a6" stroke-width="0.9"/>
<rect x="764.85" y="140.3" width="3.5" height="10.1" fill="#1e8fff" stroke="#5d7c9c" stroke-width="0.3"/>
<line x1="771.40" y1="138.75" x2="771.40" y2="150.40" stroke="#ff4646" stroke-width="0.9"/>
<rect x="769.45" y="141.0" width="3.9" height="9.4" fill="#ff0000"/>
<line x1="776.20" y1="125.00" x2="776.20" y2="143.40" stroke="#ff4646" stroke-width="0.9"/>
<rect x="774.25" y="129.0" width="3.9" height="12.5" fill="#ff0000"/>
<line x1="781.00" y1="113.50" x2="781.00" y2="134.70" stroke="#ff4646" stroke-width="0.9"/>
<rect x="779.05" y="128.50" width="3.9" height="1.3" fill="#ff1a1a"/>
<line x1="785.80" y1="127.00" x2="785.80" y2="138.30" stroke="#ff4646" stroke-width="0.9"/>
<rect x="783.85" y="127.8" width="3.9" height="1.6" fill="#ff0000"/>
<line x1="790.60" y1="127.00" x2="790.60" y2="143.40" stroke="#a6a6a6" stroke-width="0.9"/>
<rect x="788.85" y="127.8" width="3.5" height="13.6" fill="#1e8fff" stroke="#5d7c9c" stroke-width="0.3"/>
<line x1="795.40" y1="135.60" x2="795.40" y2="141.90" stroke="#ff4646" stroke-width="0.9"/>
<rect x="793.45" y="139.8" width="3.9" height="2.1" fill="#ff0000"/>
<line x1="800.20" y1="139.80" x2="800.20" y2="150.40" stroke="#a6a6a6" stroke-width="0.9"/>
<rect x="798.45" y="139.8" width="3.5" height="10.6" fill="#1e8fff" stroke="#5d7c9c" stroke-width="0.3"/>
<line x1="805.00" y1="150.30" x2="805.00" y2="158.60" stroke="#a6a6a6" stroke-width="0.9"/>
<rect x="803.25" y="150.3" width="3.5" height="3.1" fill="#1e8fff" stroke="#5d7c9c" stroke-width="0.3"/>
<line x1="809.80" y1="146.60" x2="809.80" y2="164.80" stroke="#ff4646" stroke-width="0.9"/>
<rect x="807.85" y="150.8" width="3.9" height="3.6" fill="#ff0000"/>
<line x1="814.60" y1="150.80" x2="814.60" y2="168.75" stroke="#a6a6a6" stroke-width="0.9"/>
<rect x="812.85" y="150.8" width="3.5" height="15.2" fill="#1e8fff" stroke="#5d7c9c" stroke-width="0.3"/>
<line x1="819.40" y1="163.75" x2="819.40" y2="178.30" stroke="#a6a6a6" stroke-width="0.9"/>
<rect x="817.65" y="166.9" width="3.5" height="8.4" fill="#1e8fff" stroke="#5d7c9c" stroke-width="0.3"/>
<line x1="824.20" y1="170.60" x2="824.20" y2="177.30" stroke="#ff4646" stroke-width="0.9"/>
<rect x="822.25" y="170.6" width="3.9" height="5.7" fill="#ff0000"/>
<line x1="829.00" y1="169.50" x2="829.00" y2="173.75" stroke="#a6a6a6" stroke-width="0.9"/>
<rect x="827.25" y="169.5" width="3.5" height="4.2" fill="#1e8fff" stroke="#5d7c9c" stroke-width="0.3"/>
<line x1="833.80" y1="168.00" x2="833.80" y2="173.40" stroke="#ff4646" stroke-width="0.9"/>
<rect x="831.85" y="168.0" width="3.9" height="5.4" fill="#ff0000"/>
<line x1="838.60" y1="159.70" x2="838.60" y2="171.90" stroke="#ff4646" stroke-width="0.9"/>
<rect x="836.65" y="163.8" width="3.9" height="4.2" fill="#ff0000"/>
<line x1="843.40" y1="157.00" x2="843.40" y2="168.40" stroke="#ff4646" stroke-width="0.9"/>
<rect x="841.45" y="160.2" width="3.9" height="3.8" fill="#ff0000"/>
<line x1="848.20" y1="157.00" x2="848.20" y2="164.80" stroke="#a6a6a6" stroke-width="0.9"/>
<rect x="846.45" y="159.7" width="3.5" height="1.6" fill="#1e8fff" stroke="#5d7c9c" stroke-width="0.3"/>
<line x1="853.00" y1="152.80" x2="853.00" y2="162.50" stroke="#ff4646" stroke-width="0.9"/>
<rect x="851.05" y="153.9" width="3.9" height="7.3" fill="#ff0000"/>
<line x1="857.80" y1="152.30" x2="857.80" y2="159.70" stroke="#ff4646" stroke-width="0.9"/>
<rect x="855.85" y="152.3" width="3.9" height="2.1" fill="#ff0000"/>
<line x1="862.60" y1="133.60" x2="862.60" y2="151.90" stroke="#ff4646" stroke-width="0.9"/>
<rect x="860.65" y="133.6" width="3.9" height="18.3" fill="#ff0000"/>
<line x1="867.40" y1="132.50" x2="867.40" y2="138.60" stroke="#a6a6a6" stroke-width="0.9"/>
<rect x="865.65" y="133.7" width="3.5" height="3.0" fill="#1e8fff" stroke="#5d7c9c" stroke-width="0.3"/>
<line x1="872.20" y1="129.50" x2="872.20" y2="137.75" stroke="#ff4646" stroke-width="0.9"/>
<rect x="870.25" y="133.9" width="3.9" height="3.8" fill="#ff0000"/>
<line x1="877.00" y1="114.30" x2="877.00" y2="138.70" stroke="#ff4646" stroke-width="0.9"/>
<rect x="875.05" y="114.3" width="3.9" height="19.6" fill="#ff0000"/>
<line x1="881.80" y1="99.70" x2="881.80" y2="115.00" stroke="#a6a6a6" stroke-width="0.9"/>
<rect x="880.05" y="113.55" width="3.5" height="1.3" fill="#6090c8"/>
<line x1="886.60" y1="103.75" x2="886.60" y2="116.60" stroke="#ff4646" stroke-width="0.9"/>
<rect x="884.65" y="110.3" width="3.9" height="4.4" fill="#ff0000"/>
<line x1="891.40" y1="89.20" x2="891.40" y2="111.60" stroke="#ff4646" stroke-width="0.9"/>
<rect x="889.45" y="91.9" width="3.9" height="19.7" fill="#ff0000"/>
<line x1="896.20" y1="88.40" x2="896.20" y2="92.30" stroke="#ff4646" stroke-width="0.9"/>
<rect x="894.25" y="89.7" width="3.9" height="2.6" fill="#ff0000"/>
<line x1="901.00" y1="90.00" x2="901.00" y2="116.25" stroke="#a6a6a6" stroke-width="0.9"/>
<rect x="899.25" y="90.0" width="3.5" height="26.2" fill="#1e8fff" stroke="#5d7c9c" stroke-width="0.3"/>
<line x1="905.80" y1="113.75" x2="905.80" y2="118.40" stroke="#ff4646" stroke-width="0.9"/>
<rect x="903.85" y="113.8" width="3.9" height="4.7" fill="#ff0000"/>
<line x1="910.60" y1="113.75" x2="910.60" y2="119.40" stroke="#a6a6a6" stroke-width="0.9"/>
<rect x="908.85" y="113.8" width="3.5" height="5.7" fill="#1e8fff" stroke="#5d7c9c" stroke-width="0.3"/>
<line x1="915.40" y1="120.00" x2="915.40" y2="138.40" stroke="#a6a6a6" stroke-width="0.9"/>
<rect x="913.65" y="120.0" width="3.5" height="18.4" fill="#1e8fff" stroke="#5d7c9c" stroke-width="0.3"/>
<line x1="920.20" y1="126.00" x2="920.20" y2="139.60" stroke="#ff4646" stroke-width="0.9"/>
<rect x="918.25" y="138.35" width="3.9" height="1.3" fill="#ff1a1a"/>
<line x1="925.00" y1="124.70" x2="925.00" y2="138.75" stroke="#ff4646" stroke-width="0.9"/>
<rect x="923.05" y="124.7" width="3.9" height="14.0" fill="#ff0000"/>
<line x1="929.80" y1="119.70" x2="929.80" y2="129.80" stroke="#ff4646" stroke-width="0.9"/>
<rect x="927.85" y="123.85" width="3.9" height="1.3" fill="#ff1a1a"/>
<line x1="934.60" y1="104.80" x2="934.60" y2="124.70" stroke="#ff4646" stroke-width="0.9"/>
<rect x="932.65" y="112.7" width="3.9" height="12.0" fill="#ff0000"/>
<line x1="939.40" y1="101.00" x2="939.40" y2="114.20" stroke="#ff4646" stroke-width="0.9"/>
<rect x="937.45" y="106.9" width="3.9" height="6.1" fill="#ff0000"/>
<line x1="944.20" y1="102.20" x2="944.20" y2="115.00" stroke="#a6a6a6" stroke-width="0.9"/>
<rect x="942.45" y="106.0" width="3.5" height="3.5" fill="#1e8fff" stroke="#5d7c9c" stroke-width="0.3"/>
<line x1="949.00" y1="104.80" x2="949.00" y2="114.20" stroke="#ff4646" stroke-width="0.9"/>
<rect x="947.05" y="107.5" width="3.9" height="2.0" fill="#ff0000"/>
<line x1="953.80" y1="72.00" x2="953.80" y2="108.75" stroke="#ff4646" stroke-width="0.9"/>
<rect x="951.85" y="79.4" width="3.9" height="29.3" fill="#ff0000"/>
<line x1="958.60" y1="78.75" x2="958.60" y2="92.30" stroke="#a6a6a6" stroke-width="0.9"/>
<rect x="956.85" y="78.8" width="3.5" height="11.2" fill="#1e8fff" stroke="#5d7c9c" stroke-width="0.3"/>
<line x1="963.40" y1="87.70" x2="963.40" y2="90.80" stroke="#a6a6a6" stroke-width="0.9"/>
<rect x="961.90" y="89.05" width="3.0" height="1.3" fill="#6090c8"/>
<text x="127.10 131.68 136.68 139.53 144.11 148.81 151.22 155.80 160.80 163.65 168.23" y="126.80" font-family="'DejaVu Sans','Liberation Sans',sans-serif" font-size="7.2" fill="#383838" stroke="#383838" stroke-width="0.06">11/17 09:05</text>
<text x="127.10 131.68 136.26 141.00 143.46 148.04 152.62" y="134.20" font-family="'DejaVu Sans','Liberation Sans',sans-serif" font-size="7.2" fill="#383838" stroke="#383838" stroke-width="0.06">154.644</text>
<text x="256.70 261.28 266.28 269.13 273.71 278.41 280.82 285.40 290.40 293.25 297.83" y="150.10" font-family="'DejaVu Sans','Liberation Sans',sans-serif" font-size="7.2" fill="#383838" stroke="#383838" stroke-width="0.06">11/17 09:32</text>
<text x="256.70 261.28 265.86 270.60 273.06 277.64 282.22" y="157.50" font-family="'DejaVu Sans','Liberation Sans',sans-serif" font-size="7.2" fill="#383838" stroke="#383838" stroke-width="0.06">154.620</text>
<text x="386.30 390.88 395.88 398.73 403.31 408.01 410.42 415.00 420.00 422.85 427.43" y="114.60" font-family="'DejaVu Sans','Liberation Sans',sans-serif" font-size="7.2" fill="#383838" stroke="#383838" stroke-width="0.06">11/17 09:59</text>
<text x="386.30 390.88 395.46 400.20 402.66 407.24 411.82" y="122.00" font-family="'DejaVu Sans','Liberation Sans',sans-serif" font-size="7.2" fill="#383838" stroke="#383838" stroke-width="0.06">154.657</text>
<text x="482.30 486.88 491.88 494.73 499.31 504.01 506.42 511.00 516.00 518.85 523.43" y="122.00" font-family="'DejaVu Sans','Liberation Sans',sans-serif" font-size="7.2" fill="#383838" stroke="#383838" stroke-width="0.06">11/17 10:19</text>
<text x="482.30 486.88 491.46 496.20 498.66 503.24 507.82" y="129.40" font-family="'DejaVu Sans','Liberation Sans',sans-serif" font-size="7.2" fill="#383838" stroke="#383838" stroke-width="0.06">154.649</text>
<text x="779.90 784.48 789.48 792.33 796.91 801.61 804.02 808.60 813.60 816.45 821.03" y="104.60" font-family="'DejaVu Sans','Liberation Sans',sans-serif" font-size="7.2" fill="#383838" stroke="#383838" stroke-width="0.06">11/17 11:21</text>
<text x="779.90 784.48 789.06 793.80 796.26 800.84 805.42" y="112.00" font-family="'DejaVu Sans','Liberation Sans',sans-serif" font-size="7.2" fill="#383838" stroke="#383838" stroke-width="0.06">154.667</text>
<text x="890.30 894.88 899.88 902.73 907.31 912.01 914.42 919.00 924.00 926.85 931.43" y="80.30" font-family="'DejaVu Sans','Liberation Sans',sans-serif" font-size="7.2" fill="#383838" stroke="#383838" stroke-width="0.06">11/17 11:44</text>
<text x="890.30 894.88 899.46 904.20 906.66 911.24 915.82" y="87.70" font-family="'DejaVu Sans','Liberation Sans',sans-serif" font-size="7.2" fill="#383838" stroke="#383838" stroke-width="0.06">154.692</text>
<text x="952.70 957.28 962.28 965.13 969.71 974.41 976.82 981.40 986.40 989.25 993.83" y="63.10" font-family="'DejaVu Sans','Liberation Sans',sans-serif" font-size="7.2" fill="#383838" stroke="#383838" stroke-width="0.06">11/17 11:57</text>
<text x="952.70 957.28 961.86 966.60 969.06 973.64 978.22" y="70.50" font-family="'DejaVu Sans','Liberation Sans',sans-serif" font-size="7.2" fill="#383838" stroke="#383838" stroke-width="0.06">154.710</text>
<text x="59.90 64.48 69.48 72.33 76.91 81.61 84.02 88.60 93.60 96.45 101.03" y="239.00" font-family="'DejaVu Sans','Liberation Sans',sans-serif" font-size="7.2" fill="#383838" stroke="#383838" stroke-width="0.06">11/17 08:51</text>
<text x="59.90 64.48 69.06 73.80 76.26 80.84 85.42" y="246.40" font-family="'DejaVu Sans','Liberation Sans',sans-serif" font-size="7.2" fill="#383838" stroke="#383838" stroke-width="0.06">154.545</text>
<text x="213.50 218.08 223.08 225.93 230.51 235.21 237.62 242.20 247.20 250.05 254.63" y="363.40" font-family="'DejaVu Sans','Liberation Sans',sans-serif" font-size="7.2" fill="#383838" stroke="#383838" stroke-width="0.06">11/17 09:23</text>
<text x="213.50 218.08 222.66 227.40 229.86 234.44 239.02" y="370.80" font-family="'DejaVu Sans','Liberation Sans',sans-serif" font-size="7.2" fill="#383838" stroke="#383838" stroke-width="0.06">154.417</text>
<text x="304.70 309.28 314.28 317.13 321.71 326.41 328.82 333.40 338.40 341.25 345.83" y="232.20" font-family="'DejaVu Sans','Liberation Sans',sans-serif" font-size="7.2" fill="#383838" stroke="#383838" stroke-width="0.06">11/17 09:42</text>
<text x="304.70 309.28 313.86 318.60 321.06 325.64 330.22" y="239.60" font-family="'DejaVu Sans','Liberation Sans',sans-serif" font-size="7.2" fill="#383838" stroke="#383838" stroke-width="0.06">154.552</text>
<text x="419.90 424.48 429.48 432.33 436.91 441.61 444.02 448.60 453.60 456.45 461.03" y="235.50" font-family="'DejaVu Sans','Liberation Sans',sans-serif" font-size="7.2" fill="#383838" stroke="#383838" stroke-width="0.06">11/17 10:06</text>
<text x="419.90 424.48 429.06 433.80 436.26 440.84 445.42" y="242.90" font-family="'DejaVu Sans','Liberation Sans',sans-serif" font-size="7.2" fill="#383838" stroke="#383838" stroke-width="0.06">154.548</text>
<text x="597.50 602.08 607.08 609.93 614.51 619.21 621.62 626.20 631.20 634.05 638.63" y="270.00" font-family="'DejaVu Sans','Liberation Sans',sans-serif" font-size="7.2" fill="#383838" stroke="#383838" stroke-width="0.06">11/17 10:43</text>
<text x="597.50 602.08 606.66 611.40 613.86 618.44 623.02" y="277.40" font-family="'DejaVu Sans','Liberation Sans',sans-serif" font-size="7.2" fill="#383838" stroke="#383838" stroke-width="0.06">154.513</text>
<text x="818.30 822.88 827.88 830.73 835.31 840.01 842.42 847.00 852.00 854.85 859.43" y="185.30" font-family="'DejaVu Sans','Liberation Sans',sans-serif" font-size="7.2" fill="#383838" stroke="#383838" stroke-width="0.06">11/17 11:29</text>
<text x="818.30 822.88 827.46 832.20 834.66 839.24 843.82" y="192.70" font-family="'DejaVu Sans','Liberation Sans',sans-serif" font-size="7.2" fill="#383838" stroke="#383838" stroke-width="0.06">154.600</text>
<polyline points="8.4,247.3 13.2,246.9 18.0,246.5 22.8,246.2 27.6,245.8 32.4,245.5 37.2,245.2 42.0,245.0 46.8,244.7 51.6,244.5 56.4,244.3 61.2,244.1 66.0,243.9 70.8,243.7 75.6,243.5 80.4,243.2 85.2,242.9 90.0,242.6 94.8,242.3 99.6,242.0 104.4,241.7 109.2,241.4 114.0,241.1 118.8,240.7 123.6,240.4 128.4,240.0 133.2,239.5 138.0,239.0 142.8,238.6 147.6,238.3 152.4,238.3 157.2,238.3 162.0,238.3 166.8,238.4 171.6,238.4 176.4,238.5 181.2,238.6 186.0,238.6 190.8,238.7 195.6,238.8 200.4,238.9 205.2,239.0 210.0,239.3 214.8,239.5 219.6,239.8 224.4,240.0 229.2,240.2 234.0,240.3 238.8,240.3 243.6,240.2 248.4,240.0 253.2,239.7 258.0,239.4 262.8,239.0 267.6,238.7 272.4,238.4 277.2,238.2 282.0,238.0 286.8,237.9 291.6,237.7 296.4,237.6 301.2,237.5 306.0,237.3 310.8,237.2 315.6,237.0 320.4,236.9 325.2,236.7 330.0,236.6 334.8,236.4 339.6,236.2 344.4,236.1 349.2,235.9 354.0,235.8 358.8,235.6 363.6,235.4 368.4,235.3 373.2,235.1 378.0,234.9 382.8,234.7 387.6,234.5 392.4,234.3 397.2,234.1 402.0,233.9 406.8,233.7 411.6,233.5 416.4,233.2 421.2,233.0 426.0,232.8 430.8,232.5 435.6,232.3 440.4,232.0 445.2,231.7 450.0,231.4 454.8,231.1 459.6,230.8 464.4,230.5 469.2,230.2 474.0,229.9 478.8,229.5 483.6,229.1 488.4,228.8 493.2,228.4 498.0,228.0 502.8,227.5 507.6,227.0 512.4,226.5 517.2,225.9 522.0,225.2 526.8,224.6 531.6,223.9 536.4,223.1 541.2,222.1 546.0,221.2 550.8,220.5 555.6,220.3 560.4,220.2 565.2,220.2 570.0,220.1 574.8,220.1 579.6,220.1 584.4,220.1 589.2,220.0 594.0,220.0 598.8,220.0 603.6,219.9 608.4,219.9 613.2,219.8 618.0,219.8 622.8,219.7 627.6,219.7 632.4,219.6 637.2,219.4 642.0,219.3 646.8,219.1 651.6,219.0 656.4,218.8 661.2,218.5 666.0,218.3 670.8,217.9 675.6,217.6 680.4,217.2 685.2,216.8 690.0,216.3 694.8,215.9 699.6,215.4 704.4,214.9 709.2,214.4 714.0,213.8 718.8,213.3 723.6,212.8 728.4,212.3 733.2,211.8 738.0,211.3 742.8,210.8 747.6,210.2 752.4,209.6 757.2,208.9 762.0,208.2 766.8,207.4 771.6,206.6 776.4,205.8 781.2,204.9 786.0,204.0 790.8,203.1 795.6,202.3 800.4,201.6 805.2,201.1 810.0,200.5 814.8,200.0 819.6,199.6 824.4,199.1 829.2,198.7 834.0,198.3 838.8,197.8 843.6,197.3 848.4,196.8 853.2,196.2 858.0,195.6 862.8,194.9 867.6,194.2 872.4,193.5 877.2,192.8 882.0,192.0 886.8,191.3 891.6,190.5 896.4,189.9 901.2,189.3 906.0,188.8 910.8,188.4 915.6,187.9 920.4,187.5 925.2,187.1 930.0,186.7 934.8,186.3 939.6,185.9 944.4,185.5 949.2,185.2 954.0,184.8 958.8,184.4 963.6,184.0" fill="none" stroke="#ffee58" stroke-width="1.0" stroke-linejoin="round" stroke-opacity="0.9"/>
<polyline points="8.4,244.2 13.2,243.5 18.0,242.8 22.8,242.1 27.6,241.4 32.4,240.9 37.2,240.3 42.0,239.8 46.8,239.4 51.6,238.9 56.4,238.5 61.2,238.1 66.0,237.6 70.8,237.2 75.6,236.7 80.4,236.2 85.2,235.7 90.0,235.2 94.8,234.7 99.6,234.2 104.4,233.7 109.2,233.0 114.0,232.3 118.8,231.7 123.6,231.1 128.4,230.7 133.2,230.2 138.0,229.8 142.8,229.4 147.6,229.2 152.4,229.2 157.2,229.3 162.0,229.4 166.8,229.7 171.6,229.9 176.4,230.2 181.2,230.6 186.0,231.0 190.8,231.4 195.6,231.9 200.4,232.4 205.2,233.2 210.0,234.2 214.8,235.2 219.6,235.9 224.4,236.6 229.2,237.2 234.0,237.7 238.8,237.8 243.6,237.4 248.4,236.8 253.2,236.0 258.0,235.3 262.8,234.7 267.6,234.1 272.4,233.5 277.2,232.9 282.0,232.4 286.8,231.9 291.6,231.6 296.4,231.5 301.2,231.3 306.0,231.2 310.8,231.0 315.6,230.7 320.4,230.4 325.2,230.1 330.0,229.8 334.8,229.4 339.6,229.0 344.4,228.5 349.2,228.1 354.0,227.6 358.8,227.0 363.6,226.5 368.4,225.8 373.2,225.1 378.0,224.4 382.8,223.6 387.6,223.0 392.4,222.3 397.2,221.8 402.0,221.3 406.8,220.9 411.6,220.5 416.4,220.1 421.2,219.7 426.0,219.4 430.8,219.2 435.6,219.0 440.4,218.8 445.2,218.7 450.0,218.5 454.8,218.3 459.6,218.0 464.4,217.7 469.2,217.4 474.0,217.0 478.8,216.5 483.6,216.1 488.4,215.6 493.2,215.2 498.0,214.7 502.8,214.2 507.6,213.7 512.4,213.1 517.2,212.5 522.0,212.0 526.8,211.6 531.6,211.4 536.4,211.2 541.2,211.0 546.0,210.9 550.8,210.7 555.6,210.7 560.4,210.6 565.2,210.6 570.0,210.7 574.8,210.8 579.6,210.9 584.4,211.1 589.2,211.3 594.0,211.4 598.8,211.6 603.6,211.7 608.4,211.9 613.2,212.1 618.0,212.3 622.8,212.4 627.6,212.6 632.4,212.7 637.2,212.9 642.0,213.1 646.8,213.2 651.6,213.3 656.4,213.4 661.2,213.4 666.0,213.2 670.8,213.0 675.6,212.7 680.4,212.4 685.2,212.0 690.0,211.5 694.8,211.0 699.6,210.6 704.4,210.1 709.2,209.7 714.0,209.3 718.8,208.9 723.6,208.5 728.4,208.0 733.2,207.6 738.0,207.0 742.8,206.5 747.6,205.9 752.4,205.3 757.2,204.7 762.0,204.1 766.8,203.5 771.6,202.8 776.4,202.1 781.2,201.4 786.0,200.7 790.8,200.0 795.6,199.4 800.4,199.0 805.2,198.6 810.0,198.3 814.8,198.0 819.6,197.8 824.4,197.5 829.2,197.3 834.0,197.1 838.8,196.8 843.6,196.5 848.4,196.1 853.2,195.7 858.0,195.2 862.8,194.6 867.6,193.9 872.4,193.2 877.2,192.3 882.0,191.4 886.8,190.3 891.6,189.3 896.4,188.4 901.2,187.7 906.0,187.0 910.8,186.4 915.6,185.8 920.4,185.2 925.2,184.6 930.0,183.9 934.8,183.3 939.6,182.6 944.4,181.9 949.2,181.1 954.0,180.3 958.8,179.5 963.6,178.6" fill="none" stroke="#ffbc62" stroke-width="1.0" stroke-linejoin="round" stroke-opacity="0.9"/>
<polyline points="8.4,252.0 13.2,251.0 18.0,250.1 22.8,249.3 27.6,248.5 32.4,247.8 37.2,247.1 42.0,246.4 46.8,245.8 51.6,245.3 56.4,244.8 61.2,244.4 66.0,243.9 70.8,243.3 75.6,242.6 80.4,241.7 85.2,240.7 90.0,239.6 94.8,238.5 99.6,237.3 104.4,236.1 109.2,234.8 114.0,233.4 118.8,231.9 123.6,230.2 128.4,228.4 133.2,226.7 138.0,225.3 142.8,224.3 147.6,223.7 152.4,223.1 157.2,222.6 162.0,222.0 166.8,221.5 171.6,221.0 176.4,220.5 181.2,220.1 186.0,219.8 190.8,219.6 195.6,219.5 200.4,219.6 205.2,220.1 210.0,220.8 214.8,221.3 219.6,221.6 224.4,221.5 229.2,221.4 234.0,221.1 238.8,220.7 243.6,220.3 248.4,219.6 253.2,218.4 258.0,217.0 262.8,215.7 267.6,214.7 272.4,214.0 277.2,213.3 282.0,212.7 286.8,212.2 291.6,211.8 296.4,211.6 301.2,211.4 306.0,211.2 310.8,211.2 315.6,211.3 320.4,211.4 325.2,211.6 330.0,211.7 334.8,211.6 339.6,211.4 344.4,211.1 349.2,210.6 354.0,210.2 358.8,209.7 363.6,209.3 368.4,208.9 373.2,208.5 378.0,208.0 382.8,207.5 387.6,207.1 392.4,206.7 397.2,206.3 402.0,205.9 406.8,205.5 411.6,205.1 416.4,205.0 421.2,205.1 426.0,205.4 430.8,205.8 435.6,206.3 440.4,206.6 445.2,206.8 450.0,207.1 454.8,207.3 459.6,207.4 464.4,207.4 469.2,207.4 474.0,207.4 478.8,207.3 483.6,207.3 488.4,207.2 493.2,207.1 498.0,206.9 502.8,206.7 507.6,206.4 512.4,205.9 517.2,205.2 522.0,204.4 526.8,203.6 531.6,202.8 536.4,201.9 541.2,200.9 546.0,199.7 550.8,198.3 555.6,196.8 560.4,195.3 565.2,193.9 570.0,192.5 574.8,191.3 579.6,190.0 584.4,188.8 589.2,188.0 594.0,188.0 598.8,188.1 603.6,188.3 608.4,188.5 613.2,188.8 618.0,189.2 622.8,189.7 627.6,190.2 632.4,190.8 637.2,191.3 642.0,191.8 646.8,192.3 651.6,192.8 656.4,193.0 661.2,192.9 666.0,192.5 670.8,192.0 675.6,191.5 680.4,191.1 685.2,190.8 690.0,190.8 694.8,190.9 699.6,191.0 704.4,191.1 709.2,191.2 714.0,191.2 718.8,191.2 723.6,191.2 728.4,191.2 733.2,191.1 738.0,191.1 742.8,191.0 747.6,190.8 752.4,190.7 757.2,190.4 762.0,189.9 766.8,189.4 771.6,188.9 776.4,188.3 781.2,187.6 786.0,186.8 790.8,186.1 795.6,185.4 800.4,185.0 805.2,184.6 810.0,184.4 814.8,184.1 819.6,184.0 824.4,183.8 829.2,183.6 834.0,183.4 838.8,183.2 843.6,182.9 848.4,182.6 853.2,182.2 858.0,181.6 862.8,180.9 867.6,180.2 872.4,179.2 877.2,178.2 882.0,177.1 886.8,176.2 891.6,175.2 896.4,174.3 901.2,173.4 906.0,172.5 910.8,171.6 915.6,170.8 920.4,169.9 925.2,169.0 930.0,167.9 934.8,166.7 939.6,165.3 944.4,163.8 949.2,162.1 954.0,160.3 958.8,158.4 963.6,156.3" fill="none" stroke="#e592e8" stroke-width="0.95" stroke-linejoin="round" stroke-opacity="0.9"/>
<polyline points="8.4,242.0 13.2,239.9 18.0,238.1 22.8,236.4 27.6,235.0 32.4,233.7 37.2,232.7 42.0,231.8 46.8,231.0 51.6,230.5 56.4,230.1 61.2,229.7 66.0,229.2 70.8,228.5 75.6,226.9 80.4,224.7 85.2,222.6 90.0,220.9 94.8,219.4 99.6,218.1 104.4,217.3 109.2,216.8 114.0,216.2 118.8,215.4 123.6,214.0 128.4,212.5 133.2,211.3 138.0,210.5 142.8,210.4 147.6,211.0 152.4,211.6 157.2,212.1 162.0,212.7 166.8,213.3 171.6,214.1 176.4,215.0 181.2,216.1 186.0,217.4 190.8,218.9 195.6,220.5 200.4,222.4 205.2,224.9 210.0,227.7 214.8,230.4 219.6,232.6 224.4,234.7 229.2,236.7 234.0,237.5 238.8,237.4 243.6,237.0 248.4,236.5 253.2,235.0 258.0,233.1 262.8,231.6 267.6,230.0 272.4,228.5 277.2,227.1 282.0,226.0 286.8,225.2 291.6,224.6 296.4,224.0 301.2,223.4 306.0,223.0 310.8,222.5 315.6,221.9 320.4,221.1 325.2,220.2 330.0,219.3 334.8,218.5 339.6,218.0 344.4,217.7 349.2,217.5 354.0,217.3 358.8,216.3 363.6,214.4 368.4,212.3 373.2,210.6 378.0,208.9 382.8,207.2 387.6,205.6 392.4,204.3 397.2,203.2 402.0,202.2 406.8,201.4 411.6,201.2 416.4,201.1 421.2,201.0 426.0,200.9 430.8,200.8 435.6,200.8 440.4,200.7 445.2,200.6 450.0,200.5 454.8,200.5 459.6,200.3 464.4,199.8 469.2,198.8 474.0,197.5 478.8,196.4 483.6,195.6 488.4,194.8 493.2,194.2 498.0,194.0 502.8,193.9 507.6,193.9 512.4,193.8 517.2,193.8 522.0,193.7 526.8,193.4 531.6,192.9 536.4,192.5 541.2,192.2 546.0,192.2 550.8,192.2 555.6,192.2 560.4,192.2 565.2,192.4 570.0,192.8 574.8,193.3 579.6,194.0 584.4,195.0 589.2,196.1 594.0,197.1 598.8,198.2 603.6,199.2 608.4,200.1 613.2,200.6 618.0,201.1 622.8,201.4 627.6,201.8 632.4,202.2 637.2,202.5 642.0,203.0 646.8,203.8 651.6,204.5 656.4,204.8 661.2,204.7 666.0,204.5 670.8,204.3 675.6,204.0 680.4,203.7 685.2,203.2 690.0,202.7 694.8,202.1 699.6,201.4 704.4,200.7 709.2,200.0 714.0,199.3 718.8,198.4 723.6,197.5 728.4,196.4 733.2,195.1 738.0,193.5 742.8,192.0 747.6,190.5 752.4,189.2 757.2,188.1 762.0,187.0 766.8,185.9 771.6,184.8 776.4,183.6 781.2,182.2 786.0,180.8 790.8,179.5 795.6,178.7 800.4,178.2 805.2,177.9 810.0,177.6 814.8,177.4 819.6,177.2 824.4,176.9 829.2,176.6 834.0,176.3 838.8,175.9 843.6,175.5 848.4,175.0 853.2,174.4 858.0,173.5 862.8,172.5 867.6,171.4 872.4,170.1 877.2,168.5 882.0,166.9 886.8,165.1 891.6,163.1 896.4,161.4 901.2,160.2 906.0,159.1 910.8,158.3 915.6,157.6 920.4,157.1 925.2,156.6 930.0,155.9 934.8,154.8 939.6,153.5 944.4,152.1 949.2,150.8 954.0,149.5 958.8,148.1 963.6,146.6" fill="none" stroke="#4fa14f" stroke-width="0.95" stroke-linejoin="round" stroke-opacity="0.9"/>
<polyline points="8.4,170.4 13.2,167.0 18.0,164.9 22.8,164.4 27.6,166.3 32.4,169.0 37.2,170.2 42.0,169.5 46.8,168.4 51.6,167.6 56.4,167.5 61.2,167.7 66.0,167.8 70.8,166.6 75.6,158.8 80.4,152.7 85.2,147.6 90.0,143.4 94.8,140.8 99.6,140.8 104.4,138.6 109.2,138.3 114.0,139.1 118.8,139.1 123.6,135.5 128.4,128.6 133.2,127.3 138.0,127.9 142.8,127.5 147.6,125.9 152.4,126.3 157.2,125.7 162.0,122.2 166.8,119.1 171.6,123.1 176.4,127.6 181.2,127.1 186.0,130.1 190.8,134.1 195.6,135.2 200.4,141.7 205.2,140.1 210.0,134.6 214.8,135.2 219.6,146.4 224.4,167.3 229.2,183.0 234.0,195.9 238.8,201.6 243.6,203.3 248.4,196.0 253.2,183.7 258.0,168.2 262.8,161.6 267.6,154.6 272.4,145.9 277.2,138.0 282.0,130.4 286.8,122.3 291.6,117.7 296.4,114.2 301.2,114.7 306.0,121.9 310.8,127.3 315.6,134.7 320.4,139.5 325.2,149.0 330.0,156.4 334.8,156.1 339.6,159.8 344.4,158.9 349.2,161.9 354.0,166.2 358.8,161.7 363.6,148.2 368.4,145.5 373.2,139.3 378.0,135.8 382.8,130.4 387.6,125.5 392.4,123.6 397.2,123.3 402.0,122.7 406.8,125.3 411.6,126.2 416.4,125.6 421.2,125.0 426.0,124.9 430.8,125.4 435.6,125.3 440.4,125.3 445.2,125.7 450.0,126.3 454.8,127.0 459.6,134.7 464.4,136.8 469.2,141.9 474.0,142.9 478.8,145.5 483.6,151.0 488.4,152.4 493.2,152.2 498.0,153.0 502.8,153.7 507.6,153.8 512.4,154.0 517.2,154.4 522.0,154.4 526.8,153.0 531.6,152.2 536.4,151.5 541.2,151.0 546.0,151.0 550.8,151.4 555.6,150.6 560.4,149.6 565.2,149.6 570.0,151.2 574.8,156.3 579.6,153.8 584.4,153.2 589.2,154.4 594.0,157.3 598.8,155.6 603.6,154.3 608.4,156.0 613.2,156.6 618.0,157.8 622.8,162.1 627.6,166.7 632.4,171.8 637.2,178.7 642.0,186.5 646.8,190.8 651.6,192.8 656.4,194.7 661.2,194.1 666.0,189.9 670.8,188.4 675.6,186.4 680.4,181.3 685.2,177.0 690.0,171.6 694.8,166.8 699.6,166.8 704.4,166.1 709.2,163.2 714.0,156.3 718.8,152.4 723.6,151.0 728.4,144.6 733.2,139.1 738.0,135.2 742.8,131.6 747.6,130.2 752.4,131.3 757.2,129.6 762.0,126.2 766.8,125.5 771.6,125.3 776.4,121.5 781.2,118.2 786.0,115.1 790.8,114.1 795.6,115.4 800.4,119.5 805.2,122.0 810.0,122.2 814.8,122.4 819.6,123.0 824.4,121.6 829.2,120.3 834.0,120.7 838.8,121.6 843.6,122.6 848.4,122.8 853.2,122.9 858.0,124.1 862.8,122.1 867.6,121.5 872.4,122.4 877.2,118.9 882.0,115.9 886.8,110.3 891.6,100.6 896.4,91.4 901.2,88.4 906.0,85.4 910.8,83.7 915.6,84.7 920.4,85.6 925.2,86.5 930.0,87.4 934.8,87.4 939.6,86.9 944.4,87.8 949.2,88.4 954.0,83.9 958.8,81.0 963.6,78.9" fill="none" stroke="#69b1f9" stroke-width="1.0" stroke-linejoin="round" stroke-opacity="0.95"/>
<polyline points="8.4,208.4 13.2,206.0 18.0,203.7 22.8,201.5 27.6,199.1 32.4,196.4 37.2,194.3 42.0,193.4 46.8,193.4 51.6,193.4 56.4,194.1 61.2,195.5 66.0,197.0 70.8,198.0 75.6,195.1 80.4,192.1 85.2,189.7 90.0,187.7 94.8,185.8 99.6,185.3 104.4,184.0 109.2,184.6 114.0,186.0 118.8,187.1 123.6,185.2 128.4,182.7 133.2,181.9 138.0,182.4 142.8,183.1 147.6,184.3 152.4,184.1 157.2,184.8 162.0,186.3 166.8,188.1 171.6,192.5 176.4,197.0 181.2,203.5 186.0,209.3 190.8,215.4 195.6,220.2 200.4,225.8 205.2,230.8 210.0,238.1 214.8,243.5 219.6,251.7 224.4,259.5 229.2,266.1 234.0,270.4 238.8,272.1 243.6,272.6 248.4,271.1 253.2,268.6 258.0,264.2 262.8,261.7 267.6,259.3 272.4,256.2 277.2,251.3 282.0,246.8 286.8,241.6 291.6,237.2 296.4,233.4 301.2,229.1 306.0,222.1 310.8,217.2 315.6,211.5 320.4,206.8 325.2,201.8 330.0,197.7 334.8,193.8 339.6,191.2 344.4,190.7 349.2,192.7 354.0,194.9 358.8,193.2 363.6,190.3 368.4,189.4 373.2,187.3 378.0,185.8 382.8,184.1 387.6,181.6 392.4,179.7 397.2,176.6 402.0,174.2 406.8,172.1 411.6,171.3 416.4,171.6 421.2,172.1 426.0,172.2 430.8,173.4 435.6,173.8 440.4,174.6 445.2,174.2 450.0,173.9 454.8,175.6 459.6,178.8 464.4,180.5 469.2,182.5 474.0,182.8 478.8,183.3 483.6,184.7 488.4,185.2 493.2,185.1 498.0,185.4 502.8,186.3 507.6,186.7 512.4,185.7 517.2,185.3 522.0,185.3 526.8,184.3 531.6,183.4 536.4,182.5 541.2,181.0 546.0,179.5 550.8,179.1 555.6,179.6 560.4,180.2 565.2,180.7 570.0,182.9 574.8,185.6 579.6,188.4 584.4,191.5 589.2,195.6 594.0,198.9 598.8,201.1 603.6,203.4 608.4,205.5 613.2,205.9 618.0,206.7 622.8,208.4 627.6,210.9 632.4,213.1 637.2,215.4 642.0,218.7 646.8,220.4 651.6,221.7 656.4,222.5 661.2,222.4 666.0,221.5 670.8,221.1 675.6,219.7 680.4,217.4 685.2,214.3 690.0,211.6 694.8,208.0 699.6,205.3 704.4,203.7 709.2,202.3 714.0,199.7 718.8,197.8 723.6,195.5 728.4,192.0 733.2,188.4 738.0,183.5 742.8,179.2 747.6,174.9 752.4,171.2 757.2,169.3 762.0,166.9 766.8,164.6 771.6,161.6 776.4,158.8 781.2,156.1 786.0,153.7 790.8,152.2 795.6,149.7 800.4,147.6 805.2,146.3 810.0,146.0 814.8,145.9 819.6,145.7 824.4,146.8 829.2,148.1 834.0,149.5 838.8,150.7 843.6,151.6 848.4,152.2 853.2,152.3 858.0,152.9 862.8,152.0 867.6,151.8 872.4,152.1 877.2,151.4 882.0,150.7 886.8,149.1 891.6,146.8 896.4,143.7 901.2,141.9 906.0,140.0 910.8,137.7 915.6,135.8 920.4,134.2 925.2,131.8 930.0,129.6 934.8,127.0 939.6,124.3 944.4,121.8 949.2,119.4 954.0,115.8 958.8,113.6 963.6,111.3" fill="none" stroke="#69b1f9" stroke-width="1.0" stroke-linejoin="round" stroke-opacity="0.95"/>
<polyline points="8.4,246.9 13.2,245.5 18.0,244.0 22.8,242.1 27.6,233.1 32.4,224.2 37.2,219.7 42.0,218.3 46.8,217.9 51.6,219.8 56.4,223.1 61.2,225.8 66.0,227.4 70.8,228.1 75.6,228.9 80.4,229.8 85.2,230.0 90.0,229.8 94.8,229.6 99.6,229.9 104.4,229.5 109.2,230.9 114.0,232.8 118.8,235.1 123.6,235.0 128.4,236.8 133.2,236.5 138.0,236.9 142.8,238.6 147.6,242.7 152.4,241.8 157.2,244.0 162.0,250.4 166.8,257.2 171.6,261.9 176.4,266.3 181.2,279.9 186.0,288.5 190.8,296.8 195.6,305.3 200.4,309.9 205.2,321.5 210.0,341.5 214.8,351.8 219.6,356.9 224.4,351.7 229.2,349.1 234.0,345.0 238.8,342.6 243.6,341.9 248.4,346.3 253.2,353.4 258.0,360.3 262.8,361.7 267.6,363.9 272.4,366.4 277.2,364.6 282.0,363.2 286.8,360.8 291.6,356.6 296.4,352.6 301.2,343.5 306.0,322.3 310.8,307.1 315.6,288.4 320.4,274.1 325.2,254.6 330.0,238.9 334.8,231.6 339.6,222.6 344.4,222.5 349.2,223.5 354.0,223.7 358.8,224.8 363.6,232.5 368.4,233.3 373.2,235.3 378.0,235.8 382.8,237.7 387.6,237.6 392.4,235.7 397.2,230.0 402.0,225.7 406.8,218.9 411.6,216.3 416.4,217.6 421.2,219.2 426.0,219.4 430.8,221.4 435.6,222.4 440.4,223.8 445.2,222.8 450.0,221.5 454.8,224.1 459.6,223.0 464.4,224.2 469.2,223.1 474.0,222.6 478.8,221.1 483.6,218.5 488.4,218.0 493.2,218.1 498.0,217.7 502.8,218.8 507.6,219.7 512.4,217.5 517.2,216.2 522.0,216.2 526.8,215.6 531.6,214.5 536.4,213.4 541.2,211.0 546.0,207.9 550.8,206.8 555.6,208.6 560.4,210.8 565.2,211.8 570.0,214.6 574.8,214.8 579.6,223.1 584.4,229.7 589.2,236.9 594.0,240.5 598.8,246.7 603.6,252.6 608.4,254.9 613.2,255.2 618.0,255.7 622.8,254.7 627.6,255.1 632.4,254.3 637.2,252.1 642.0,250.8 646.8,250.1 651.6,250.5 656.4,250.4 661.2,250.7 666.0,253.0 670.8,253.7 675.6,253.0 680.4,253.4 685.2,251.7 690.0,251.6 694.8,249.3 699.6,243.8 704.4,241.3 709.2,241.3 714.0,243.1 718.8,243.2 723.6,240.0 728.4,239.3 733.2,237.8 738.0,231.8 742.8,226.9 747.6,219.5 752.4,211.2 757.2,208.9 762.0,207.7 766.8,203.8 771.6,197.8 776.4,196.0 781.2,194.0 786.0,192.3 790.8,190.4 795.6,184.0 800.4,175.7 805.2,170.6 810.0,169.8 814.8,169.3 819.6,168.5 824.4,172.0 829.2,175.9 834.0,178.3 838.8,179.8 843.6,180.7 848.4,181.5 853.2,181.6 858.0,181.7 862.8,182.0 867.6,182.2 872.4,181.8 877.2,183.8 882.0,185.5 886.8,188.0 891.6,192.9 896.4,196.0 901.2,195.3 906.0,194.6 910.8,191.6 915.6,187.0 920.4,182.8 925.2,177.0 930.0,171.7 934.8,166.7 939.6,161.8 944.4,155.7 949.2,150.5 954.0,147.7 958.8,146.3 963.6,143.7" fill="none" stroke="#69b1f9" stroke-width="1.0" stroke-linejoin="round" stroke-opacity="0.95"/>
<polyline points="8.4,407.1 13.2,416.2 18.0,387.4 22.8,423.0 27.6,436.6 32.4,424.1 37.2,415.0 42.0,400.0 46.8,452.9 51.6,453.1 56.4,482.2 61.2,437.1 66.0,466.2 70.8,454.4 75.6,383.8 80.4,387.3 85.2,395.7 90.0,398.4 94.8,398.4 99.6,436.6 104.4,408.4 109.2,471.4 114.0,451.4 118.8,458.1 123.6,396.8 128.4,384.4 133.2,416.2 138.0,436.2 142.8,455.8 147.6,473.3 152.4,462.9 157.2,463.7 162.0,482.2 166.8,466.4 171.6,449.2 176.4,444.5 181.2,471.5 186.0,457.7 190.8,463.2 195.6,461.1 200.4,444.5 205.2,480.0 210.0,482.2 214.8,450.3 219.6,444.6 224.4,418.4 229.2,423.2 234.0,399.2 238.8,388.3 243.6,387.9 248.4,383.8 253.2,384.3 258.0,387.3 262.8,412.3 267.6,403.9 272.4,399.6 277.2,412.4 282.0,411.3 286.8,414.6 291.6,451.0 296.4,457.9 301.2,482.2 306.0,456.5 310.8,476.3 315.6,448.6 320.4,437.2 325.2,434.4 330.0,398.0 334.8,383.8 339.6,422.7 344.4,412.4 349.2,457.2 354.0,473.1 358.8,397.2 363.6,383.8 368.4,420.7 373.2,404.4 378.0,415.4 382.8,398.7 387.6,408.1 392.4,427.3 397.2,429.8 402.0,459.8 406.8,478.8 411.6,466.9 416.4,467.2 421.2,461.4 426.0,448.1 430.8,439.7 435.6,441.4 440.4,433.4 445.2,428.7 450.0,420.5 454.8,408.7 459.6,401.4 464.4,397.1 469.2,383.8 474.0,383.8 478.8,387.1 483.6,438.5 488.4,434.5 493.2,420.0 498.0,428.5 502.8,468.8 507.6,471.2 512.4,455.6 517.2,471.3 522.0,460.2 526.8,426.4 531.6,428.2 536.4,407.2 541.2,398.1 546.0,402.9 550.8,460.7 555.6,475.7 560.4,456.5 565.2,435.6 570.0,458.3 574.8,453.2 579.6,482.2 584.4,481.6 589.2,477.2 594.0,456.9 598.8,455.6 603.6,455.0 608.4,424.4 613.2,395.4 618.0,398.2 622.8,396.1 627.6,423.9 632.4,416.2 637.2,429.2 642.0,471.8 646.8,454.0 651.6,460.4 656.4,446.3 661.2,383.8 666.0,392.0 670.8,407.5 675.6,420.0 680.4,388.5 685.2,398.8 690.0,389.9 694.8,389.5 699.6,442.8 704.4,450.8 709.2,414.4 714.0,383.8 718.8,425.9 723.6,446.8 728.4,388.4 733.2,388.2 738.0,402.6 742.8,403.5 747.6,408.3 752.4,423.6 757.2,426.3 762.0,405.6 766.8,468.2 771.6,434.4 776.4,397.2 781.2,420.2 786.0,418.3 790.8,451.1 795.6,447.2 800.4,482.2 805.2,470.9 810.0,455.4 814.8,477.3 819.6,476.5 824.4,467.5 829.2,471.8 834.0,455.9 838.8,437.0 843.6,426.0 848.4,421.2 853.2,388.0 858.0,383.8 862.8,383.8 867.6,393.7 872.4,394.0 877.2,383.8 882.0,406.4 886.8,400.4 891.6,387.5 896.4,385.8 901.2,438.3 906.0,433.4 910.8,444.5 915.6,482.2 920.4,479.9 925.2,453.6 930.0,452.2 934.8,428.8 939.6,398.8 944.4,405.4 949.2,400.3 954.0,394.5 958.8,410.3 963.6,414.8" fill="none" stroke="#3cc8fa" stroke-width="0.8" stroke-linejoin="round"/>
<polyline points="8.4,401.9 13.2,407.8 18.0,403.7 22.8,407.1 27.6,410.1 32.4,428.2 37.2,425.2 42.0,413.5 46.8,423.0 51.6,435.3 56.4,462.8 61.2,457.5 66.0,461.9 70.8,452.6 75.6,434.8 80.4,408.5 85.2,388.9 90.0,393.8 94.8,397.5 99.6,411.1 104.4,414.5 109.2,438.8 114.0,443.7 118.8,460.3 123.6,435.4 128.4,413.1 133.2,399.1 138.0,412.2 142.8,436.0 147.6,455.1 152.4,464.0 157.2,466.6 162.0,469.6 166.8,470.8 171.6,466.0 176.4,453.4 181.2,455.1 186.0,457.9 190.8,464.1 195.6,460.7 200.4,456.2 205.2,461.9 210.0,468.9 214.8,470.9 219.6,459.1 224.4,437.8 229.2,428.7 234.0,413.6 238.8,403.6 243.6,391.8 248.4,386.6 253.2,385.3 258.0,385.1 262.8,394.6 267.6,401.2 272.4,405.3 277.2,405.3 282.0,407.8 286.8,412.8 291.6,425.6 296.4,441.2 301.2,463.7 306.0,465.5 310.8,471.7 315.6,460.5 320.4,454.0 325.2,440.1 330.0,423.2 334.8,405.4 339.6,401.5 344.4,406.3 349.2,430.8 354.0,447.6 358.8,442.5 363.6,418.0 368.4,400.5 373.2,402.9 378.0,413.5 382.8,406.2 387.6,407.4 392.4,411.4 397.2,421.7 402.0,439.0 406.8,456.1 411.6,468.5 416.4,471.0 421.2,465.2 426.0,458.9 430.8,449.7 435.6,443.0 440.4,438.2 445.2,434.5 450.0,427.5 454.8,419.3 459.6,410.2 464.4,402.4 469.2,394.1 474.0,388.2 478.8,384.9 483.6,403.1 488.4,420.1 493.2,431.0 498.0,427.7 502.8,439.1 507.6,456.2 512.4,465.2 517.2,466.0 522.0,462.4 526.8,452.6 531.6,438.2 536.4,420.6 541.2,411.2 546.0,402.7 550.8,420.6 555.6,446.4 560.4,464.3 565.2,455.9 570.0,450.1 574.8,449.0 579.6,464.6 584.4,472.3 589.2,480.3 594.0,471.9 598.8,463.2 603.6,455.9 608.4,445.0 613.2,425.0 618.0,406.0 622.8,396.6 627.6,406.1 632.4,412.1 637.2,423.1 642.0,439.1 646.8,451.7 651.6,462.1 656.4,453.6 661.2,430.1 666.0,407.4 670.8,394.4 675.6,406.5 680.4,405.3 685.2,402.4 690.0,392.4 694.8,392.7 699.6,407.4 704.4,427.7 709.2,436.0 714.0,416.3 718.8,408.0 723.6,418.8 728.4,420.4 733.2,407.8 738.0,393.1 742.8,398.1 747.6,404.8 752.4,411.8 757.2,419.4 762.0,418.5 766.8,433.4 771.6,436.1 776.4,433.3 781.2,417.3 786.0,411.9 790.8,429.9 795.6,438.9 800.4,460.2 805.2,466.8 810.0,469.5 814.8,467.9 819.6,469.7 824.4,473.8 829.2,471.9 834.0,465.0 838.8,454.9 843.6,439.6 848.4,428.1 853.2,411.7 858.0,397.6 862.8,385.2 867.6,387.1 872.4,390.5 877.2,390.5 882.0,394.7 886.8,396.9 891.6,398.1 896.4,391.2 901.2,403.9 906.0,419.1 910.8,438.7 915.6,453.4 920.4,468.9 925.2,471.9 930.0,461.9 934.8,444.9 939.6,426.6 944.4,411.0 949.2,401.5 954.0,400.1 958.8,401.7 963.6,406.5" fill="none" stroke="#fa4b4b" stroke-width="0.8" stroke-linejoin="round"/>
<line x1="6.00" y1="374.40" x2="1011.00" y2="374.40" stroke="#606060" stroke-width="1.0"/>
<line x1="6.00" y1="486.40" x2="1011.00" y2="486.40" stroke="#8a8a8a" stroke-width="1.0"/>
<rect x="978.90" y="77.30" width="32.10" height="8.40" fill="#fff"/>
<text x="980.10 984.68 989.26 994.01 996.46 1001.04 1005.62" y="84.25" font-family="'DejaVu Sans','Liberation Sans',sans-serif" font-size="7.2" fill="#383838" stroke="#383838" stroke-width="0.06">154.700</text>
<rect x="978.90" y="125.70" width="32.10" height="8.40" fill="#fff"/>
<text x="980.10 984.68 989.26 994.01 996.46 1001.04 1005.62" y="132.65" font-family="'DejaVu Sans','Liberation Sans',sans-serif" font-size="7.2" fill="#383838" stroke="#383838" stroke-width="0.06">154.650</text>
<rect x="978.90" y="174.10" width="32.10" height="8.40" fill="#fff"/>
<text x="980.10 984.68 989.26 994.01 996.46 1001.04 1005.62" y="181.05" font-family="'DejaVu Sans','Liberation Sans',sans-serif" font-size="7.2" fill="#383838" stroke="#383838" stroke-width="0.06">154.600</text>
<rect x="978.90" y="222.50" width="32.10" height="8.40" fill="#fff"/>
<text x="980.10 984.68 989.26 994.01 996.46 1001.04 1005.62" y="229.45" font-family="'DejaVu Sans','Liberation Sans',sans-serif" font-size="7.2" fill="#383838" stroke="#383838" stroke-width="0.06">154.550</text>
<rect x="978.90" y="270.90" width="32.10" height="8.40" fill="#fff"/>
<text x="980.10 984.68 989.26 994.01 996.46 1001.04 1005.62" y="277.85" font-family="'DejaVu Sans','Liberation Sans',sans-serif" font-size="7.2" fill="#383838" stroke="#383838" stroke-width="0.06">154.500</text>
<rect x="978.90" y="319.30" width="32.10" height="8.40" fill="#fff"/>
<text x="980.10 984.68 989.26 994.01 996.46 1001.04 1005.62" y="326.25" font-family="'DejaVu Sans','Liberation Sans',sans-serif" font-size="7.2" fill="#383838" stroke="#383838" stroke-width="0.06">154.450</text>
<rect x="983.48" y="379.55" width="27.52" height="8.40" fill="#fff"/>
<text x="984.68 989.26 993.84 998.59 1001.04 1005.62" y="386.50" font-family="'DejaVu Sans','Liberation Sans',sans-serif" font-size="7.2" fill="#383838" stroke="#383838" stroke-width="0.06">100.00</text>
<rect x="988.06" y="404.18" width="22.94" height="8.40" fill="#fff"/>
<text x="989.26 993.84 998.59 1001.04 1005.62" y="411.12" font-family="'DejaVu Sans','Liberation Sans',sans-serif" font-size="7.2" fill="#383838" stroke="#383838" stroke-width="0.06">75.00</text>
<rect x="988.06" y="428.80" width="22.94" height="8.40" fill="#fff"/>
<text x="989.26 993.84 998.59 1001.04 1005.62" y="435.75" font-family="'DejaVu Sans','Liberation Sans',sans-serif" font-size="7.2" fill="#383838" stroke="#383838" stroke-width="0.06">50.00</text>
<rect x="988.06" y="453.43" width="22.94" height="8.40" fill="#fff"/>
<text x="989.26 993.84 998.59 1001.04 1005.62" y="460.38" font-family="'DejaVu Sans','Liberation Sans',sans-serif" font-size="7.2" fill="#383838" stroke="#383838" stroke-width="0.06">25.00</text>
<rect x="992.64" y="478.05" width="18.36" height="8.40" fill="#fff"/>
<text x="993.84 998.59 1001.04 1005.62" y="485.00" font-family="'DejaVu Sans','Liberation Sans',sans-serif" font-size="7.2" fill="#383838" stroke="#383838" stroke-width="0.06">0.00</text>
<text x="996.90 1001.83 1003.77" y="45.20" font-family="'DejaVu Sans','Liberation Sans',sans-serif" font-size="7.2" fill="#383838" stroke="#383838" stroke-width="0.06">Bid</text>
<rect x="978.90" y="47.96" width="32.10" height="8.40" fill="#fff"/>
<text x="980.10 984.68 989.26 994.01 996.46 1001.04 1005.62" y="54.91" font-family="'DejaVu Sans','Liberation Sans',sans-serif" font-size="7.2" fill="#e8b44c" stroke="#e8b44c" stroke-width="0.06">154.730</text>
<rect x="979.00" y="86.10" width="32.00" height="8.00" fill="#3d9a3d"/>
<text x="980.30 984.88 989.46 994.21 996.66 1001.24 1005.82" y="92.96" font-family="'DejaVu Sans','Liberation Sans',sans-serif" font-size="7.2" fill="#fff" stroke="#fff" stroke-width="0.06">154.691</text>
<text x="55.00 60.00 62.85 67.43" y="493.70" font-family="'DejaVu Sans','Liberation Sans',sans-serif" font-size="7.2" fill="#383838" stroke="#383838" stroke-width="0.06">8:50</text>
<text x="103.00 108.00 110.85 115.43" y="493.70" font-family="'DejaVu Sans','Liberation Sans',sans-serif" font-size="7.2" fill="#383838" stroke="#383838" stroke-width="0.06">9:00</text>
<text x="151.00 156.00 158.85 163.43" y="493.70" font-family="'DejaVu Sans','Liberation Sans',sans-serif" font-size="7.2" fill="#383838" stroke="#383838" stroke-width="0.06">9:10</text>
<text x="199.00 204.00 206.85 211.43" y="493.70" font-family="'DejaVu Sans','Liberation Sans',sans-serif" font-size="7.2" fill="#383838" stroke="#383838" stroke-width="0.06">9:20</text>
<text x="247.00 252.00 254.85 259.43" y="493.70" font-family="'DejaVu Sans','Liberation Sans',sans-serif" font-size="7.2" fill="#383838" stroke="#383838" stroke-width="0.06">9:30</text>
<text x="295.00 300.00 302.85 307.43" y="493.70" font-family="'DejaVu Sans','Liberation Sans',sans-serif" font-size="7.2" fill="#383838" stroke="#383838" stroke-width="0.06">9:40</text>
<text x="343.00 348.00 350.85 355.43" y="493.70" font-family="'DejaVu Sans','Liberation Sans',sans-serif" font-size="7.2" fill="#383838" stroke="#383838" stroke-width="0.06">9:50</text>
<text x="391.00 395.58 400.58 403.43 408.01" y="493.70" font-family="'DejaVu Sans','Liberation Sans',sans-serif" font-size="7.2" fill="#383838" stroke="#383838" stroke-width="0.06">10:00</text>
<text x="439.00 443.58 448.58 451.43 456.01" y="493.70" font-family="'DejaVu Sans','Liberation Sans',sans-serif" font-size="7.2" fill="#383838" stroke="#383838" stroke-width="0.06">10:10</text>
<text x="487.00 491.58 496.58 499.43 504.01" y="493.70" font-family="'DejaVu Sans','Liberation Sans',sans-serif" font-size="7.2" fill="#383838" stroke="#383838" stroke-width="0.06">10:20</text>
<text x="535.00 539.58 544.58 547.43 552.01" y="493.70" font-family="'DejaVu Sans','Liberation Sans',sans-serif" font-size="7.2" fill="#383838" stroke="#383838" stroke-width="0.06">10:30</text>
<text x="583.00 587.58 592.58 595.43 600.01" y="493.70" font-family="'DejaVu Sans','Liberation Sans',sans-serif" font-size="7.2" fill="#383838" stroke="#383838" stroke-width="0.06">10:40</text>
<text x="631.00 635.58 640.58 643.43 648.01" y="493.70" font-family="'DejaVu Sans','Liberation Sans',sans-serif" font-size="7.2" fill="#383838" stroke="#383838" stroke-width="0.06">10:50</text>
<text x="679.00 683.58 688.58 691.43 696.01" y="493.70" font-family="'DejaVu Sans','Liberation Sans',sans-serif" font-size="7.2" fill="#383838" stroke="#383838" stroke-width="0.06">11:00</text>
<text x="727.00 731.58 736.58 739.43 744.01" y="493.70" font-family="'DejaVu Sans','Liberation Sans',sans-serif" font-size="7.2" fill="#383838" stroke="#383838" stroke-width="0.06">11:10</text>
<text x="775.00 779.58 784.58 787.43 792.01" y="493.70" font-family="'DejaVu Sans','Liberation Sans',sans-serif" font-size="7.2" fill="#383838" stroke="#383838" stroke-width="0.06">11:20</text>
<text x="823.00 827.58 832.58 835.43 840.01" y="493.70" font-family="'DejaVu Sans','Liberation Sans',sans-serif" font-size="7.2" fill="#383838" stroke="#383838" stroke-width="0.06">11:30</text>
<text x="871.00 875.58 880.58 883.43 888.01" y="493.70" font-family="'DejaVu Sans','Liberation Sans',sans-serif" font-size="7.2" fill="#383838" stroke="#383838" stroke-width="0.06">11:40</text>
<text x="919.00 923.58 928.58 931.43 936.01" y="493.70" font-family="'DejaVu Sans','Liberation Sans',sans-serif" font-size="7.2" fill="#383838" stroke="#383838" stroke-width="0.06">11:50</text>
<rect x="70.80" y="487.20" width="47.40" height="7.60" fill="#fff"/>
<text x="71.20 75.78 80.78 83.63 88.21 92.91 95.32 99.90 104.90 107.75 112.33" y="493.70" font-family="'DejaVu Sans','Liberation Sans',sans-serif" font-size="7.2" fill="#e8b44c" stroke="#e8b44c" stroke-width="0.06">11/17 08:53</text>
<path d="M8.6 490.8 l2.4 -1.8 v3.6z" fill="#c8c8c8"/>
<path d="M1008.6 490.8 l-2.4 -1.8 v3.6z" fill="#c8c8c8"/>
<rect x="6.00" y="38.00" width="262.50" height="9.40" fill="#fff"/>
<text x="7.35 14.65" y="44.50" font-family="'Liberation Sans','Noto Sans CJK JP',sans-serif" font-size="7.2" fill="#222" stroke="#222" stroke-width="0.2">日時</text>
<text x="22.32 25.17 29.75 34.33 38.91 43.91 46.75 51.33 56.33 59.18 63.76 68.76 71.47 76.05 81.05 83.90 88.48 93.48" y="44.50" font-family="'DejaVu Sans','Liberation Sans',sans-serif" font-size="7.2" fill="#222" stroke="#222" stroke-width="0.2">:2025/11/17 08:53 </text>
<text x="96.24" y="44.50" font-family="'Liberation Sans','Noto Sans CJK JP',sans-serif" font-size="7.2" fill="#222" stroke="#222" stroke-width="0.2">始</text>
<text x="103.91 106.76 111.34 115.92 120.66 123.12 127.70 132.28 137.28" y="44.50" font-family="'DejaVu Sans','Liberation Sans',sans-serif" font-size="7.2" fill="#222" stroke="#222" stroke-width="0.2">:154.557 </text>
<text x="140.04" y="44.50" font-family="'Liberation Sans','Noto Sans CJK JP',sans-serif" font-size="7.2" fill="#222" stroke="#222" stroke-width="0.2">高</text>
<text x="147.71 150.56 155.13 159.71 164.46 166.91 171.49 176.07 181.07" y="44.50" font-family="'DejaVu Sans','Liberation Sans',sans-serif" font-size="7.2" fill="#222" stroke="#222" stroke-width="0.2">:154.564 </text>
<text x="183.83" y="44.50" font-family="'Liberation Sans','Noto Sans CJK JP',sans-serif" font-size="7.2" fill="#222" stroke="#222" stroke-width="0.2">安</text>
<text x="191.50 194.35 198.93 203.51 208.26 210.71 215.29 219.87 224.87" y="44.50" font-family="'DejaVu Sans','Liberation Sans',sans-serif" font-size="7.2" fill="#222" stroke="#222" stroke-width="0.2">:154.557 </text>
<text x="227.63" y="44.50" font-family="'Liberation Sans','Noto Sans CJK JP',sans-serif" font-size="7.2" fill="#222" stroke="#222" stroke-width="0.2">終</text>
<text x="235.30 238.15 242.73 247.31 252.05 254.51 259.09 263.67" y="44.50" font-family="'DejaVu Sans','Liberation Sans',sans-serif" font-size="7.2" fill="#222" stroke="#222" stroke-width="0.2">:154.563</text>
<rect x="6.00" y="47.40" width="495.20" height="8.60" fill="#fff"/>
<text x="7.23 13.37 18.52 21.56 26.14 30.72 35.53 38.99 41.84 46.42 51.00 55.74 58.20 62.78 67.36 72.36" y="52.90" font-family="'DejaVu Sans','Liberation Sans',sans-serif" font-size="7.2" fill="#fffa36" stroke="#fffa36" stroke-width="0.2">MA(200):154.532 </text>
<text x="74.97 78.62 82.27 85.92 89.57 93.22 96.87 100.52" y="52.90" font-family="'Liberation Sans','Noto Sans CJK JP',sans-serif" font-size="7.3" fill="#222" font-weight="bold">ﾎﾞﾘﾝｼﾞｬｰ</text>
<text x="104.19 110.34 115.49 118.53 123.11 127.92 131.38 134.23 138.80 143.38 148.13 150.58 155.16 159.74 164.74 167.38 173.34 178.14 181.18 185.92 188.38 193.19 196.65 199.49 204.07 208.65 213.40 215.85 220.43 225.01 230.01 233.06 235.99 240.79 243.82 248.57 251.02 255.83 259.29 262.14 266.72 271.30 276.04 278.50 283.08 287.66 292.66" y="52.90" font-family="'DejaVu Sans','Liberation Sans',sans-serif" font-size="7.2" fill="#55a5f5" stroke="#55a5f5" stroke-width="0.2">MA(20):154.579 +σ(2.0):154.611 -σ(2.0):154.548 </text>
<text x="295.30 301.44 306.59 309.63 314.21 319.02 322.48 325.33 329.91 334.49 339.23 341.69 346.27 350.84 355.85" y="52.90" font-family="'DejaVu Sans','Liberation Sans',sans-serif" font-size="7.2" fill="#e58be8" stroke="#e58be8" stroke-width="0.2">MA(75):154.533 </text>
<text x="358.56 363.03 369.18 374.33 377.37 381.95 386.76 390.22 393.07 397.64 402.22 406.97 409.42 414.00 418.58 423.58" y="52.90" font-family="'DejaVu Sans','Liberation Sans',sans-serif" font-size="7.2" fill="#4a9e4a" stroke="#4a9e4a" stroke-width="0.2">EMA(75):154.548 </text>
<text x="426.29 430.77 436.91 442.07 445.11 449.69 454.27 459.08 462.53 465.38 469.96 474.54 479.29 481.74 486.32 490.90" y="52.90" font-family="'DejaVu Sans','Liberation Sans',sans-serif" font-size="7.2" fill="#ffb347" stroke="#ffb347" stroke-width="0.2">EMA(200):154.538</text>
<rect x="6.00" y="375.00" width="128.00" height="8.80" fill="#fff"/>
<text x="6.90 10.55 14.20 17.85 21.50 25.15 28.80 32.45 36.10" y="381.80" font-family="'Liberation Sans','Noto Sans CJK JP',sans-serif" font-size="7.3" fill="#222" font-weight="bold">ｽﾄｷｬｽﾃｨｸｽ</text>
<text x="40.08 43.12 47.93" y="381.80" font-family="'DejaVu Sans','Liberation Sans',sans-serif" font-size="7.2" fill="#333" stroke="#333" stroke-width="0.2">(8)</text>
<text x="54.32 61.75 67.02 69.87 74.45 79.20 81.65 86.23 91.23" y="381.80" font-family="'DejaVu Sans','Liberation Sans',sans-serif" font-size="7.2" fill="#3cc8fa" stroke="#3cc8fa" stroke-width="0.2">%K:28.12 </text>
<text x="94.40 101.69 107.66 110.51 115.09 119.83 122.29 126.87" y="381.80" font-family="'DejaVu Sans','Liberation Sans',sans-serif" font-size="7.2" fill="#fa4b4b" stroke="#fa4b4b" stroke-width="0.2">%D:29.69</text>
<text x="861.20 866.16 871.12 876.08 881.50 884.58 889.55 894.96 898.05 903.01 908.43 911.36 916.32 921.74 924.82 929.79" y="33.30" font-family="'DejaVu Sans','Liberation Sans',sans-serif" font-size="7.8" fill="#fff">2025/11/17 08:40</text>
<text x="934.75" y="33.30" font-family="'Liberation Sans','Noto Sans CJK JP',sans-serif" font-size="7.6" fill="#fff">～</text>
<text x="942.35 947.31 952.27 957.23 962.65 965.73 970.69 976.11 979.19 984.15 989.57 992.51 997.47 1002.89 1005.97 1010.93" y="33.30" font-family="'DejaVu Sans','Liberation Sans',sans-serif" font-size="7.8" fill="#fff">2025/11/17 11:59</text>
</svg>

<!-- scrollbar -->
<div class="a" style="left:6px;top:495.2px;width:1005.4px;height:7.7px;background:linear-gradient(#222,#2c2c2c 80%,#4a4a4a)"></div>
<div class="a" style="left:970.4px;top:496.4px;width:40.9px;height:6px;background:#585858;border-radius:3px"></div>
<div class="a" style="left:989.5px;top:497px;width:2.1px;height:5px;background:#8a8a8a"></div>

<!-- bottom tabs -->
<div class="a tab" style="left:5.6px;width:59.2px;letter-spacing:-0.1px;font-size:7.3px;font-family:'Liberation Sans','Noto Sans CJK JP',sans-serif">⑤主要通貨比較</div>
<div class="a tab" style="left:66px;width:40.8px;letter-spacing:0px">米ドル/円</div>
<div class="a tab" style="left:107.8px;width:51.2px;letter-spacing:-0.05px">米ドル/円-2</div>
<div class="a" style="left:336.2px;top:513.5px;width:52.8px;height:8px;border-radius:3px;background:#777"></div>

<!-- footer -->
<div class="a" style="left:857.2px;top:504.5px;height:16px;font-family:'Liberation Serif',serif;font-size:9.6px;line-height:16px;color:#a8a8a8;white-space:nowrap;letter-spacing:0.9px">M<span style="color:#ee8a1c;font-size:12.4px;font-weight:bold;letter-spacing:0.6px">i</span><span style="color:#ee8a1c">T</span><span style="font-family:'Liberation Sans',sans-serif;font-size:5.4px;position:relative;top:-4.4px;letter-spacing:0;color:#9a9a9a;margin-left:-0.6px">®</span></div>
<div class="a" style="left:882.8px;top:507px;font-size:9.4px;line-height:11px;color:#e8e8e8;white-space:nowrap">©</div>
<div class="a" style="left:892.4px;top:507.3px;font-size:7.37px;line-height:11px;color:#f0f0f0;white-space:nowrap;font-weight:bold;letter-spacing:-0.06px">Mobile Internet Technology, Co.,LTD.</div>
</body></html>
